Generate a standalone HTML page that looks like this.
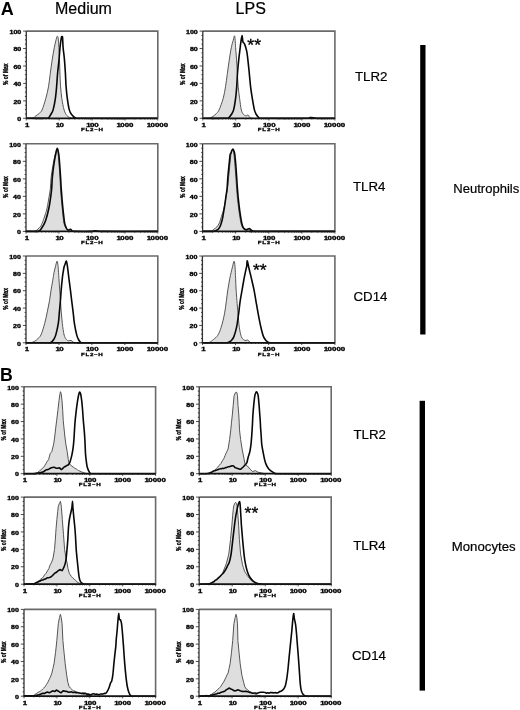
<!DOCTYPE html><html><head><meta charset="utf-8"><style>html,body{margin:0;padding:0;background:#fff;}svg{display:block;will-change:transform;}text{font-family:"Liberation Sans", sans-serif;fill:#000;}</style></head><body>
<svg width="520" height="710" viewBox="0 0 520 710">
<rect width="520" height="710" fill="#fff"/>
<path d="M27.00 118.30 C27.98 118.27 31.43 118.50 32.90 118.10 C34.37 117.70 34.73 116.70 35.80 115.90 C36.87 115.10 38.25 114.30 39.30 113.30 C40.35 112.30 41.02 112.38 42.10 109.90 C43.18 107.42 44.73 102.25 45.80 98.40 C46.87 94.55 47.75 90.98 48.50 86.80 C49.25 82.62 49.67 77.92 50.30 73.30 C50.93 68.68 51.63 63.38 52.30 59.10 C52.97 54.82 53.58 51.15 54.30 47.60 C55.02 44.05 56.08 39.68 56.60 37.80 C57.12 35.92 57.13 36.22 57.40 36.30 C57.67 36.38 57.95 36.42 58.20 38.30 C58.45 40.18 58.68 43.93 58.90 47.60 C59.12 51.27 59.32 55.68 59.50 60.30 C59.68 64.92 59.82 70.88 60.00 75.30 C60.18 79.72 60.30 82.95 60.60 86.80 C60.90 90.65 61.22 94.55 61.80 98.40 C62.38 102.25 63.23 107.02 64.10 109.90 C64.97 112.78 65.85 114.37 67.00 115.70 C68.15 117.03 69.50 117.47 71.00 117.90 C72.50 118.33 75.17 118.23 76.00 118.30 Z" fill="#dedede" stroke="none"/>
<path d="M27.00 118.30 C27.98 118.27 31.43 118.50 32.90 118.10 C34.37 117.70 34.73 116.70 35.80 115.90 C36.87 115.10 38.25 114.30 39.30 113.30 C40.35 112.30 41.02 112.38 42.10 109.90 C43.18 107.42 44.73 102.25 45.80 98.40 C46.87 94.55 47.75 90.98 48.50 86.80 C49.25 82.62 49.67 77.92 50.30 73.30 C50.93 68.68 51.63 63.38 52.30 59.10 C52.97 54.82 53.58 51.15 54.30 47.60 C55.02 44.05 56.08 39.68 56.60 37.80 C57.12 35.92 57.13 36.22 57.40 36.30 C57.67 36.38 57.95 36.42 58.20 38.30 C58.45 40.18 58.68 43.93 58.90 47.60 C59.12 51.27 59.32 55.68 59.50 60.30 C59.68 64.92 59.82 70.88 60.00 75.30 C60.18 79.72 60.30 82.95 60.60 86.80 C60.90 90.65 61.22 94.55 61.80 98.40 C62.38 102.25 63.23 107.02 64.10 109.90 C64.97 112.78 65.85 114.37 67.00 115.70 C68.15 117.03 69.50 117.47 71.00 117.90 C72.50 118.33 75.17 118.23 76.00 118.30" fill="none" stroke="#555555" stroke-width="1.0" stroke-linejoin="round"/>
<path d="M27.00 118.30 C30.17 118.30 42.42 118.37 46.00 118.30 C49.58 118.23 47.70 118.53 48.50 117.90 C49.30 117.27 50.03 115.83 50.80 114.50 C51.57 113.17 52.33 112.58 53.10 109.90 C53.87 107.22 54.82 102.25 55.40 98.40 C55.98 94.55 56.23 90.98 56.60 86.80 C56.97 82.62 57.18 77.92 57.60 73.30 C58.02 68.68 58.70 63.38 59.10 59.10 C59.50 54.82 59.63 51.15 60.00 47.60 C60.37 44.05 60.97 39.63 61.30 37.80 C61.63 35.97 61.78 36.60 62.00 36.60 C62.22 36.60 62.42 35.97 62.60 37.80 C62.78 39.63 62.80 44.05 63.10 47.60 C63.40 51.15 64.02 54.82 64.40 59.10 C64.78 63.38 65.12 68.68 65.40 73.30 C65.68 77.92 65.78 82.62 66.10 86.80 C66.42 90.98 66.77 94.55 67.30 98.40 C67.83 102.25 68.58 107.22 69.30 109.90 C70.02 112.58 70.55 113.17 71.60 114.50 C72.65 115.83 74.20 117.27 75.60 117.90 C77.00 118.53 66.43 118.23 80.00 118.30 C93.57 118.37 144.17 118.30 157.00 118.30" fill="none" stroke="#080808" stroke-width="1.6" stroke-linejoin="round" stroke-linecap="round"/>
<path d="M26.3 31.1 H157.8 V118.3" fill="none" stroke="#6a6a6a" stroke-width="1.6"/>
<path d="M26.3 31.1 V118.3" fill="none" stroke="#333" stroke-width="1.3"/>
<path d="M26.3 118.3 H157.8" fill="none" stroke="#111" stroke-width="1.8"/>
<path d="M23.1 118.3H26.3M24.9 113.94H26.3M24.9 109.58H26.3M24.9 105.22H26.3M23.1 100.86H26.3M24.9 96.5H26.3M24.9 92.14H26.3M24.9 87.78H26.3M23.1 83.42H26.3M24.9 79.06H26.3M24.9 74.7H26.3M24.9 70.34H26.3M23.1 65.98H26.3M24.9 61.62H26.3M24.9 57.26H26.3M24.9 52.9H26.3M23.1 48.54H26.3M24.9 44.18H26.3M24.9 39.82H26.3M24.9 35.46H26.3M23.1 31.1H26.3M26.3 118.3V120.5M36.2 118.3V119.5M41.99 118.3V119.5M46.09 118.3V119.5M49.28 118.3V119.5M51.88 118.3V119.5M54.08 118.3V119.5M55.99 118.3V119.5M57.67 118.3V119.5M59.17 118.3V120.5M69.07 118.3V119.5M74.86 118.3V119.5M78.97 118.3V119.5M82.15 118.3V119.5M84.76 118.3V119.5M86.96 118.3V119.5M88.86 118.3V119.5M90.55 118.3V119.5M92.05 118.3V120.5M101.95 118.3V119.5M107.74 118.3V119.5M111.84 118.3V119.5M115.03 118.3V119.5M117.63 118.3V119.5M119.83 118.3V119.5M121.74 118.3V119.5M123.42 118.3V119.5M124.92 118.3V120.5M134.82 118.3V119.5M140.61 118.3V119.5M144.72 118.3V119.5M147.9 118.3V119.5M150.51 118.3V119.5M152.71 118.3V119.5M154.61 118.3V119.5M156.3 118.3V119.5M157.8 118.3V120.5" stroke="#222" stroke-width="0.8" fill="none"/>
<text transform="translate(21.3 121) scale(0.71 0.47)" font-size="10.0" font-weight="bold" text-anchor="end" stroke="#000" stroke-width="0.6">0</text>
<text transform="translate(21.3 103.56) scale(0.71 0.47)" font-size="10.0" font-weight="bold" text-anchor="end" stroke="#000" stroke-width="0.6">20</text>
<text transform="translate(21.3 86.12) scale(0.71 0.47)" font-size="10.0" font-weight="bold" text-anchor="end" stroke="#000" stroke-width="0.6">40</text>
<text transform="translate(21.3 68.68) scale(0.71 0.47)" font-size="10.0" font-weight="bold" text-anchor="end" stroke="#000" stroke-width="0.6">60</text>
<text transform="translate(21.3 51.24) scale(0.71 0.47)" font-size="10.0" font-weight="bold" text-anchor="end" stroke="#000" stroke-width="0.6">80</text>
<text transform="translate(21.3 33.8) scale(0.71 0.47)" font-size="10.0" font-weight="bold" text-anchor="end" stroke="#000" stroke-width="0.6">100</text>
<text transform="translate(27.3 126.8) scale(0.79 0.46)" font-size="10.0" font-weight="bold" text-anchor="middle" stroke="#000" stroke-width="0.6">1</text>
<text transform="translate(59.88 126.8) scale(0.79 0.46)" font-size="10.0" font-weight="bold" text-anchor="middle" stroke="#000" stroke-width="0.6" dx="0 -0.8">10</text>
<text transform="translate(92.45 126.8) scale(0.79 0.46)" font-size="10.0" font-weight="bold" text-anchor="middle" stroke="#000" stroke-width="0.6" dx="0 -0.8">100</text>
<text transform="translate(125.02 126.8) scale(0.79 0.46)" font-size="10.0" font-weight="bold" text-anchor="middle" stroke="#000" stroke-width="0.6" dx="0 -0.8">1000</text>
<text transform="translate(157.4 126.8) scale(0.79 0.46)" font-size="10.0" font-weight="bold" text-anchor="middle" stroke="#000" stroke-width="0.6" dx="0 -0.8">10000</text>
<text transform="translate(92.35 131) scale(0.62 0.44)" font-size="10" font-weight="bold" text-anchor="middle" letter-spacing="1.2" stroke="#000" stroke-width="0.6">FL2–H</text>
<text transform="translate(8.3 74.2) rotate(-90) scale(0.5 0.68)" font-size="10" font-weight="bold" text-anchor="middle" stroke="#000" stroke-width="0.5">% of Max</text>
<path d="M209.60 118.30 C210.18 117.97 211.95 117.12 213.10 116.30 C214.25 115.48 215.50 114.47 216.50 113.40 C217.50 112.33 217.98 112.40 219.10 109.90 C220.22 107.40 222.13 102.25 223.20 98.40 C224.27 94.55 224.80 90.98 225.50 86.80 C226.20 82.62 226.75 77.92 227.40 73.30 C228.05 68.68 228.75 63.38 229.40 59.10 C230.05 54.82 230.67 50.73 231.30 47.60 C231.93 44.47 232.67 42.27 233.20 40.30 C233.73 38.33 234.17 35.80 234.50 35.80 C234.83 35.80 235.02 38.33 235.20 40.30 C235.38 42.27 235.38 44.47 235.60 47.60 C235.82 50.73 236.22 54.98 236.50 59.10 C236.78 63.22 237.02 67.68 237.30 72.30 C237.58 76.92 237.82 82.45 238.20 86.80 C238.58 91.15 239.08 94.55 239.60 98.40 C240.12 102.25 240.63 107.22 241.30 109.90 C241.97 112.58 242.82 113.52 243.60 114.50 C244.38 115.48 245.22 115.70 246.00 115.80 C246.78 115.90 247.63 114.77 248.30 115.10 C248.97 115.43 249.22 117.27 250.00 117.80 C250.78 118.33 252.50 118.22 253.00 118.30 Z" fill="#dedede" stroke="none"/>
<path d="M209.60 118.30 C210.18 117.97 211.95 117.12 213.10 116.30 C214.25 115.48 215.50 114.47 216.50 113.40 C217.50 112.33 217.98 112.40 219.10 109.90 C220.22 107.40 222.13 102.25 223.20 98.40 C224.27 94.55 224.80 90.98 225.50 86.80 C226.20 82.62 226.75 77.92 227.40 73.30 C228.05 68.68 228.75 63.38 229.40 59.10 C230.05 54.82 230.67 50.73 231.30 47.60 C231.93 44.47 232.67 42.27 233.20 40.30 C233.73 38.33 234.17 35.80 234.50 35.80 C234.83 35.80 235.02 38.33 235.20 40.30 C235.38 42.27 235.38 44.47 235.60 47.60 C235.82 50.73 236.22 54.98 236.50 59.10 C236.78 63.22 237.02 67.68 237.30 72.30 C237.58 76.92 237.82 82.45 238.20 86.80 C238.58 91.15 239.08 94.55 239.60 98.40 C240.12 102.25 240.63 107.22 241.30 109.90 C241.97 112.58 242.82 113.52 243.60 114.50 C244.38 115.48 245.22 115.70 246.00 115.80 C246.78 115.90 247.63 114.77 248.30 115.10 C248.97 115.43 249.22 117.27 250.00 117.80 C250.78 118.33 252.50 118.22 253.00 118.30" fill="none" stroke="#555555" stroke-width="1.0" stroke-linejoin="round"/>
<path d="M203.00 118.30 C206.83 118.30 221.73 118.37 226.00 118.30 C230.27 118.23 227.72 118.53 228.60 117.90 C229.48 117.27 230.47 115.83 231.30 114.50 C232.13 113.17 232.88 112.58 233.60 109.90 C234.32 107.22 235.08 102.25 235.60 98.40 C236.12 94.55 236.38 90.98 236.70 86.80 C237.02 82.62 237.15 77.92 237.50 73.30 C237.85 68.68 238.35 63.38 238.80 59.10 C239.25 54.82 239.85 50.48 240.20 47.60 C240.55 44.72 240.58 43.82 240.90 41.80 C241.22 39.78 241.77 35.50 242.10 35.50 C242.43 35.50 242.48 40.37 242.90 41.80 C243.32 43.23 243.97 42.55 244.60 44.10 C245.23 45.65 246.17 48.60 246.70 51.10 C247.23 53.60 247.38 55.57 247.80 59.10 C248.22 62.63 248.73 67.68 249.20 72.30 C249.67 76.92 250.08 82.45 250.60 86.80 C251.12 91.15 251.67 94.55 252.30 98.40 C252.93 102.25 253.73 107.22 254.40 109.90 C255.07 112.58 255.50 113.17 256.30 114.50 C257.10 115.83 258.08 117.27 259.20 117.90 C260.32 118.53 255.03 118.23 263.00 118.30 C270.97 118.37 299.17 118.42 307.00 118.30 C314.83 118.18 308.92 117.70 310.00 117.60 C311.08 117.50 312.42 117.58 313.50 117.70 C314.58 117.82 312.97 118.20 316.50 118.30 C320.03 118.40 331.67 118.30 334.70 118.30" fill="none" stroke="#080808" stroke-width="1.6" stroke-linejoin="round" stroke-linecap="round"/>
<path d="M202.8 31.1 H334.9 V118.3" fill="none" stroke="#6a6a6a" stroke-width="1.6"/>
<path d="M202.8 31.1 V118.3" fill="none" stroke="#333" stroke-width="1.3"/>
<path d="M202.8 118.3 H334.9" fill="none" stroke="#111" stroke-width="1.8"/>
<path d="M199.6 118.3H202.8M201.4 113.94H202.8M201.4 109.58H202.8M201.4 105.22H202.8M199.6 100.86H202.8M201.4 96.5H202.8M201.4 92.14H202.8M201.4 87.78H202.8M199.6 83.42H202.8M201.4 79.06H202.8M201.4 74.7H202.8M201.4 70.34H202.8M199.6 65.98H202.8M201.4 61.62H202.8M201.4 57.26H202.8M201.4 52.9H202.8M199.6 48.54H202.8M201.4 44.18H202.8M201.4 39.82H202.8M201.4 35.46H202.8M199.6 31.1H202.8M202.8 118.3V120.5M212.74 118.3V119.5M218.56 118.3V119.5M222.68 118.3V119.5M225.88 118.3V119.5M228.5 118.3V119.5M230.71 118.3V119.5M232.62 118.3V119.5M234.31 118.3V119.5M235.82 118.3V120.5M245.77 118.3V119.5M251.58 118.3V119.5M255.71 118.3V119.5M258.91 118.3V119.5M261.52 118.3V119.5M263.73 118.3V119.5M265.65 118.3V119.5M267.34 118.3V119.5M268.85 118.3V120.5M278.79 118.3V119.5M284.61 118.3V119.5M288.73 118.3V119.5M291.93 118.3V119.5M294.55 118.3V119.5M296.76 118.3V119.5M298.67 118.3V119.5M300.36 118.3V119.5M301.88 118.3V120.5M311.82 118.3V119.5M317.63 118.3V119.5M321.76 118.3V119.5M324.96 118.3V119.5M327.57 118.3V119.5M329.78 118.3V119.5M331.7 118.3V119.5M333.39 118.3V119.5M334.9 118.3V120.5" stroke="#222" stroke-width="0.8" fill="none"/>
<text transform="translate(197.8 121) scale(0.71 0.47)" font-size="10.0" font-weight="bold" text-anchor="end" stroke="#000" stroke-width="0.6">0</text>
<text transform="translate(197.8 103.56) scale(0.71 0.47)" font-size="10.0" font-weight="bold" text-anchor="end" stroke="#000" stroke-width="0.6">20</text>
<text transform="translate(197.8 86.12) scale(0.71 0.47)" font-size="10.0" font-weight="bold" text-anchor="end" stroke="#000" stroke-width="0.6">40</text>
<text transform="translate(197.8 68.68) scale(0.71 0.47)" font-size="10.0" font-weight="bold" text-anchor="end" stroke="#000" stroke-width="0.6">60</text>
<text transform="translate(197.8 51.24) scale(0.71 0.47)" font-size="10.0" font-weight="bold" text-anchor="end" stroke="#000" stroke-width="0.6">80</text>
<text transform="translate(197.8 33.8) scale(0.71 0.47)" font-size="10.0" font-weight="bold" text-anchor="end" stroke="#000" stroke-width="0.6">100</text>
<text transform="translate(203.8 126.8) scale(0.79 0.46)" font-size="10.0" font-weight="bold" text-anchor="middle" stroke="#000" stroke-width="0.6">1</text>
<text transform="translate(236.52 126.8) scale(0.79 0.46)" font-size="10.0" font-weight="bold" text-anchor="middle" stroke="#000" stroke-width="0.6" dx="0 -0.8">10</text>
<text transform="translate(269.25 126.8) scale(0.79 0.46)" font-size="10.0" font-weight="bold" text-anchor="middle" stroke="#000" stroke-width="0.6" dx="0 -0.8">100</text>
<text transform="translate(301.98 126.8) scale(0.79 0.46)" font-size="10.0" font-weight="bold" text-anchor="middle" stroke="#000" stroke-width="0.6" dx="0 -0.8">1000</text>
<text transform="translate(334.5 126.8) scale(0.79 0.46)" font-size="10.0" font-weight="bold" text-anchor="middle" stroke="#000" stroke-width="0.6" dx="0 -0.8">10000</text>
<text transform="translate(269.15 131) scale(0.62 0.44)" font-size="10" font-weight="bold" text-anchor="middle" letter-spacing="1.2" stroke="#000" stroke-width="0.6">FL2–H</text>
<text transform="translate(184.8 74.2) rotate(-90) scale(0.5 0.68)" font-size="10" font-weight="bold" text-anchor="middle" stroke="#000" stroke-width="0.5">% of Max</text>
<path d="M30.00 231.30 C30.75 231.27 33.42 231.25 34.50 231.10 C35.58 230.95 35.93 230.72 36.50 230.40 C37.07 230.08 37.40 229.70 37.90 229.20 C38.40 228.70 39.00 227.93 39.50 227.40 C40.00 226.87 40.23 227.27 40.90 226.00 C41.57 224.73 42.73 221.85 43.50 219.80 C44.27 217.75 44.90 215.67 45.50 213.70 C46.10 211.73 46.48 210.93 47.10 208.00 C47.72 205.07 48.65 199.40 49.20 196.10 C49.75 192.80 50.08 191.25 50.40 188.20 C50.72 185.15 50.70 181.45 51.10 177.80 C51.50 174.15 52.13 170.15 52.80 166.30 C53.47 162.45 54.35 157.63 55.10 154.70 C55.85 151.77 56.78 148.70 57.30 148.70 C57.82 148.70 57.88 151.77 58.20 154.70 C58.52 157.63 58.90 162.45 59.20 166.30 C59.50 170.15 59.78 174.15 60.00 177.80 C60.22 181.45 60.27 184.55 60.50 188.20 C60.73 191.85 61.07 195.85 61.40 199.70 C61.73 203.55 62.08 207.45 62.50 211.30 C62.92 215.15 63.35 220.07 63.90 222.80 C64.45 225.53 65.12 226.38 65.80 227.70 C66.48 229.02 67.13 230.10 68.00 230.70 C68.87 231.30 70.50 231.20 71.00 231.30 Z" fill="#dedede" stroke="none"/>
<path d="M30.00 231.30 C30.75 231.27 33.42 231.25 34.50 231.10 C35.58 230.95 35.93 230.72 36.50 230.40 C37.07 230.08 37.40 229.70 37.90 229.20 C38.40 228.70 39.00 227.93 39.50 227.40 C40.00 226.87 40.23 227.27 40.90 226.00 C41.57 224.73 42.73 221.85 43.50 219.80 C44.27 217.75 44.90 215.67 45.50 213.70 C46.10 211.73 46.48 210.93 47.10 208.00 C47.72 205.07 48.65 199.40 49.20 196.10 C49.75 192.80 50.08 191.25 50.40 188.20 C50.72 185.15 50.70 181.45 51.10 177.80 C51.50 174.15 52.13 170.15 52.80 166.30 C53.47 162.45 54.35 157.63 55.10 154.70 C55.85 151.77 56.78 148.70 57.30 148.70 C57.82 148.70 57.88 151.77 58.20 154.70 C58.52 157.63 58.90 162.45 59.20 166.30 C59.50 170.15 59.78 174.15 60.00 177.80 C60.22 181.45 60.27 184.55 60.50 188.20 C60.73 191.85 61.07 195.85 61.40 199.70 C61.73 203.55 62.08 207.45 62.50 211.30 C62.92 215.15 63.35 220.07 63.90 222.80 C64.45 225.53 65.12 226.38 65.80 227.70 C66.48 229.02 67.13 230.10 68.00 230.70 C68.87 231.30 70.50 231.20 71.00 231.30" fill="none" stroke="#555555" stroke-width="1.0" stroke-linejoin="round"/>
<path d="M26.00 231.40 C27.83 231.40 34.78 231.50 37.00 231.40 C39.22 231.30 38.65 231.17 39.30 230.80 C39.95 230.43 40.25 230.05 40.90 229.20 C41.55 228.35 42.37 227.27 43.20 225.70 C44.03 224.13 44.95 222.75 45.90 219.80 C46.85 216.85 48.08 211.95 48.90 208.00 C49.72 204.05 50.33 199.40 50.80 196.10 C51.27 192.80 51.45 191.25 51.70 188.20 C51.95 185.15 51.98 181.45 52.30 177.80 C52.62 174.15 53.05 170.15 53.60 166.30 C54.15 162.45 54.98 157.68 55.60 154.70 C56.22 151.72 56.77 148.40 57.30 148.40 C57.83 148.40 58.38 151.72 58.80 154.70 C59.22 157.68 59.50 162.45 59.80 166.30 C60.10 170.15 60.37 174.15 60.60 177.80 C60.83 181.45 60.95 184.55 61.20 188.20 C61.45 191.85 61.77 195.85 62.10 199.70 C62.43 203.55 62.78 207.45 63.20 211.30 C63.62 215.15 64.08 220.02 64.60 222.80 C65.12 225.58 65.73 226.80 66.30 228.00 C66.87 229.20 67.32 229.77 68.00 230.00 C68.68 230.23 69.65 229.23 70.40 229.40 C71.15 229.57 71.73 230.67 72.50 231.00 C73.27 231.33 71.92 231.33 75.00 231.40 C78.08 231.47 87.83 231.50 91.00 231.40 C94.17 231.30 92.83 230.87 94.00 230.80 C95.17 230.73 96.67 230.90 98.00 231.00 C99.33 231.10 92.10 231.33 102.00 231.40 C111.90 231.47 148.17 231.40 157.40 231.40" fill="none" stroke="#080808" stroke-width="1.6" stroke-linejoin="round" stroke-linecap="round"/>
<path d="M26 143.8 H157.8 V231.4" fill="none" stroke="#6a6a6a" stroke-width="1.6"/>
<path d="M26 143.8 V231.4" fill="none" stroke="#333" stroke-width="1.3"/>
<path d="M26 231.4 H157.8" fill="none" stroke="#111" stroke-width="1.8"/>
<path d="M22.8 231.4H26M24.6 227.02H26M24.6 222.64H26M24.6 218.26H26M22.8 213.88H26M24.6 209.5H26M24.6 205.12H26M24.6 200.74H26M22.8 196.36H26M24.6 191.98H26M24.6 187.6H26M24.6 183.22H26M22.8 178.84H26M24.6 174.46H26M24.6 170.08H26M24.6 165.7H26M22.8 161.32H26M24.6 156.94H26M24.6 152.56H26M24.6 148.18H26M22.8 143.8H26M26 231.4V233.6M35.92 231.4V232.6M41.72 231.4V232.6M45.84 231.4V232.6M49.03 231.4V232.6M51.64 231.4V232.6M53.85 231.4V232.6M55.76 231.4V232.6M57.44 231.4V232.6M58.95 231.4V233.6M68.87 231.4V232.6M74.67 231.4V232.6M78.79 231.4V232.6M81.98 231.4V232.6M84.59 231.4V232.6M86.8 231.4V232.6M88.71 231.4V232.6M90.39 231.4V232.6M91.9 231.4V233.6M101.82 231.4V232.6M107.62 231.4V232.6M111.74 231.4V232.6M114.93 231.4V232.6M117.54 231.4V232.6M119.75 231.4V232.6M121.66 231.4V232.6M123.34 231.4V232.6M124.85 231.4V233.6M134.77 231.4V232.6M140.57 231.4V232.6M144.69 231.4V232.6M147.88 231.4V232.6M150.49 231.4V232.6M152.7 231.4V232.6M154.61 231.4V232.6M156.29 231.4V232.6M157.8 231.4V233.6" stroke="#222" stroke-width="0.8" fill="none"/>
<text transform="translate(21 234.1) scale(0.71 0.47)" font-size="10.0" font-weight="bold" text-anchor="end" stroke="#000" stroke-width="0.6">0</text>
<text transform="translate(21 216.58) scale(0.71 0.47)" font-size="10.0" font-weight="bold" text-anchor="end" stroke="#000" stroke-width="0.6">20</text>
<text transform="translate(21 199.06) scale(0.71 0.47)" font-size="10.0" font-weight="bold" text-anchor="end" stroke="#000" stroke-width="0.6">40</text>
<text transform="translate(21 181.54) scale(0.71 0.47)" font-size="10.0" font-weight="bold" text-anchor="end" stroke="#000" stroke-width="0.6">60</text>
<text transform="translate(21 164.02) scale(0.71 0.47)" font-size="10.0" font-weight="bold" text-anchor="end" stroke="#000" stroke-width="0.6">80</text>
<text transform="translate(21 146.5) scale(0.71 0.47)" font-size="10.0" font-weight="bold" text-anchor="end" stroke="#000" stroke-width="0.6">100</text>
<text transform="translate(27 239.9) scale(0.79 0.46)" font-size="10.0" font-weight="bold" text-anchor="middle" stroke="#000" stroke-width="0.6">1</text>
<text transform="translate(59.65 239.9) scale(0.79 0.46)" font-size="10.0" font-weight="bold" text-anchor="middle" stroke="#000" stroke-width="0.6" dx="0 -0.8">10</text>
<text transform="translate(92.3 239.9) scale(0.79 0.46)" font-size="10.0" font-weight="bold" text-anchor="middle" stroke="#000" stroke-width="0.6" dx="0 -0.8">100</text>
<text transform="translate(124.95 239.9) scale(0.79 0.46)" font-size="10.0" font-weight="bold" text-anchor="middle" stroke="#000" stroke-width="0.6" dx="0 -0.8">1000</text>
<text transform="translate(157.4 239.9) scale(0.79 0.46)" font-size="10.0" font-weight="bold" text-anchor="middle" stroke="#000" stroke-width="0.6" dx="0 -0.8">10000</text>
<text transform="translate(92.2 244.1) scale(0.62 0.44)" font-size="10" font-weight="bold" text-anchor="middle" letter-spacing="1.2" stroke="#000" stroke-width="0.6">FL2–H</text>
<text transform="translate(8 187.1) rotate(-90) scale(0.5 0.68)" font-size="10" font-weight="bold" text-anchor="middle" stroke="#000" stroke-width="0.5">% of Max</text>
<path d="M204.00 231.30 C205.17 231.27 209.35 231.45 211.00 231.10 C212.65 230.75 212.92 229.90 213.90 229.20 C214.88 228.50 215.97 227.98 216.90 226.90 C217.83 225.82 218.77 224.38 219.50 222.70 C220.23 221.02 220.63 218.88 221.30 216.80 C221.97 214.72 222.92 212.30 223.50 210.20 C224.08 208.10 224.40 206.37 224.80 204.20 C225.20 202.03 225.45 199.87 225.90 197.20 C226.35 194.53 227.05 191.43 227.50 188.20 C227.95 184.97 228.23 181.45 228.60 177.80 C228.97 174.15 229.32 170.15 229.70 166.30 C230.08 162.45 230.52 157.38 230.90 154.70 C231.28 152.02 231.68 151.08 232.00 150.20 C232.32 149.32 232.47 148.65 232.80 149.40 C233.13 150.15 233.63 151.88 234.00 154.70 C234.37 157.52 234.68 162.45 235.00 166.30 C235.32 170.15 235.63 174.15 235.90 177.80 C236.17 181.45 236.32 184.55 236.60 188.20 C236.88 191.85 237.20 195.85 237.60 199.70 C238.00 203.55 238.45 207.45 239.00 211.30 C239.55 215.15 240.32 220.15 240.90 222.80 C241.48 225.45 241.90 226.05 242.50 227.20 C243.10 228.35 243.75 229.08 244.50 229.70 C245.25 230.32 246.08 230.63 247.00 230.90 C247.92 231.17 249.50 231.23 250.00 231.30 Z" fill="#dedede" stroke="none"/>
<path d="M204.00 231.30 C205.17 231.27 209.35 231.45 211.00 231.10 C212.65 230.75 212.92 229.90 213.90 229.20 C214.88 228.50 215.97 227.98 216.90 226.90 C217.83 225.82 218.77 224.38 219.50 222.70 C220.23 221.02 220.63 218.88 221.30 216.80 C221.97 214.72 222.92 212.30 223.50 210.20 C224.08 208.10 224.40 206.37 224.80 204.20 C225.20 202.03 225.45 199.87 225.90 197.20 C226.35 194.53 227.05 191.43 227.50 188.20 C227.95 184.97 228.23 181.45 228.60 177.80 C228.97 174.15 229.32 170.15 229.70 166.30 C230.08 162.45 230.52 157.38 230.90 154.70 C231.28 152.02 231.68 151.08 232.00 150.20 C232.32 149.32 232.47 148.65 232.80 149.40 C233.13 150.15 233.63 151.88 234.00 154.70 C234.37 157.52 234.68 162.45 235.00 166.30 C235.32 170.15 235.63 174.15 235.90 177.80 C236.17 181.45 236.32 184.55 236.60 188.20 C236.88 191.85 237.20 195.85 237.60 199.70 C238.00 203.55 238.45 207.45 239.00 211.30 C239.55 215.15 240.32 220.15 240.90 222.80 C241.48 225.45 241.90 226.05 242.50 227.20 C243.10 228.35 243.75 229.08 244.50 229.70 C245.25 230.32 246.08 230.63 247.00 230.90 C247.92 231.17 249.50 231.23 250.00 231.30" fill="none" stroke="#555555" stroke-width="1.0" stroke-linejoin="round"/>
<path d="M202.60 231.40 C203.83 231.40 208.12 231.43 210.00 231.40 C211.88 231.37 212.85 231.37 213.90 231.20 C214.95 231.03 215.50 230.82 216.30 230.40 C217.10 229.98 218.02 229.48 218.70 228.70 C219.38 227.92 219.82 227.18 220.40 225.70 C220.98 224.22 221.72 221.77 222.20 219.80 C222.68 217.83 222.95 215.87 223.30 213.90 C223.65 211.93 223.98 209.98 224.30 208.00 C224.62 206.02 224.92 203.98 225.20 202.00 C225.48 200.02 225.72 198.07 226.00 196.10 C226.28 194.13 226.67 192.18 226.90 190.20 C227.13 188.22 227.25 186.27 227.40 184.20 C227.55 182.13 227.55 180.78 227.80 177.80 C228.05 174.82 228.62 169.18 228.90 166.30 C229.18 163.42 229.30 162.43 229.50 160.50 C229.70 158.57 229.85 155.95 230.10 154.70 C230.35 153.45 230.72 153.67 231.00 153.00 C231.28 152.33 231.47 151.37 231.80 150.70 C232.13 150.03 232.63 148.92 233.00 149.00 C233.37 149.08 233.70 150.25 234.00 151.20 C234.30 152.15 234.48 152.18 234.80 154.70 C235.12 157.22 235.58 162.45 235.90 166.30 C236.22 170.15 236.45 174.15 236.70 177.80 C236.95 181.45 237.12 184.55 237.40 188.20 C237.68 191.85 238.00 195.85 238.40 199.70 C238.80 203.55 239.25 207.45 239.80 211.30 C240.35 215.15 241.15 220.12 241.70 222.80 C242.25 225.48 242.58 226.33 243.10 227.40 C243.62 228.47 244.15 228.85 244.80 229.20 C245.45 229.55 246.23 229.60 247.00 229.50 C247.77 229.40 248.73 228.52 249.40 228.60 C250.07 228.68 250.33 229.57 251.00 230.00 C251.67 230.43 252.57 230.97 253.40 231.20 C254.23 231.43 242.45 231.37 256.00 231.40 C269.55 231.43 321.58 231.40 334.70 231.40" fill="none" stroke="#080808" stroke-width="1.6" stroke-linejoin="round" stroke-linecap="round"/>
<path d="M202.6 143.8 H334.9 V231.4" fill="none" stroke="#6a6a6a" stroke-width="1.6"/>
<path d="M202.6 143.8 V231.4" fill="none" stroke="#333" stroke-width="1.3"/>
<path d="M202.6 231.4 H334.9" fill="none" stroke="#111" stroke-width="1.8"/>
<path d="M199.4 231.4H202.6M201.2 227.02H202.6M201.2 222.64H202.6M201.2 218.26H202.6M199.4 213.88H202.6M201.2 209.5H202.6M201.2 205.12H202.6M201.2 200.74H202.6M199.4 196.36H202.6M201.2 191.98H202.6M201.2 187.6H202.6M201.2 183.22H202.6M199.4 178.84H202.6M201.2 174.46H202.6M201.2 170.08H202.6M201.2 165.7H202.6M199.4 161.32H202.6M201.2 156.94H202.6M201.2 152.56H202.6M201.2 148.18H202.6M199.4 143.8H202.6M202.6 231.4V233.6M212.56 231.4V232.6M218.38 231.4V232.6M222.51 231.4V232.6M225.72 231.4V232.6M228.34 231.4V232.6M230.55 231.4V232.6M232.47 231.4V232.6M234.16 231.4V232.6M235.67 231.4V233.6M245.63 231.4V232.6M251.46 231.4V232.6M255.59 231.4V232.6M258.79 231.4V232.6M261.41 231.4V232.6M263.63 231.4V232.6M265.54 231.4V232.6M267.24 231.4V232.6M268.75 231.4V233.6M278.71 231.4V232.6M284.53 231.4V232.6M288.66 231.4V232.6M291.87 231.4V232.6M294.49 231.4V232.6M296.7 231.4V232.6M298.62 231.4V232.6M300.31 231.4V232.6M301.82 231.4V233.6M311.78 231.4V232.6M317.61 231.4V232.6M321.74 231.4V232.6M324.94 231.4V232.6M327.56 231.4V232.6M329.78 231.4V232.6M331.69 231.4V232.6M333.39 231.4V232.6M334.9 231.4V233.6" stroke="#222" stroke-width="0.8" fill="none"/>
<text transform="translate(197.6 234.1) scale(0.71 0.47)" font-size="10.0" font-weight="bold" text-anchor="end" stroke="#000" stroke-width="0.6">0</text>
<text transform="translate(197.6 216.58) scale(0.71 0.47)" font-size="10.0" font-weight="bold" text-anchor="end" stroke="#000" stroke-width="0.6">20</text>
<text transform="translate(197.6 199.06) scale(0.71 0.47)" font-size="10.0" font-weight="bold" text-anchor="end" stroke="#000" stroke-width="0.6">40</text>
<text transform="translate(197.6 181.54) scale(0.71 0.47)" font-size="10.0" font-weight="bold" text-anchor="end" stroke="#000" stroke-width="0.6">60</text>
<text transform="translate(197.6 164.02) scale(0.71 0.47)" font-size="10.0" font-weight="bold" text-anchor="end" stroke="#000" stroke-width="0.6">80</text>
<text transform="translate(197.6 146.5) scale(0.71 0.47)" font-size="10.0" font-weight="bold" text-anchor="end" stroke="#000" stroke-width="0.6">100</text>
<text transform="translate(203.6 239.9) scale(0.79 0.46)" font-size="10.0" font-weight="bold" text-anchor="middle" stroke="#000" stroke-width="0.6">1</text>
<text transform="translate(236.37 239.9) scale(0.79 0.46)" font-size="10.0" font-weight="bold" text-anchor="middle" stroke="#000" stroke-width="0.6" dx="0 -0.8">10</text>
<text transform="translate(269.15 239.9) scale(0.79 0.46)" font-size="10.0" font-weight="bold" text-anchor="middle" stroke="#000" stroke-width="0.6" dx="0 -0.8">100</text>
<text transform="translate(301.93 239.9) scale(0.79 0.46)" font-size="10.0" font-weight="bold" text-anchor="middle" stroke="#000" stroke-width="0.6" dx="0 -0.8">1000</text>
<text transform="translate(334.5 239.9) scale(0.79 0.46)" font-size="10.0" font-weight="bold" text-anchor="middle" stroke="#000" stroke-width="0.6" dx="0 -0.8">10000</text>
<text transform="translate(269.05 244.1) scale(0.62 0.44)" font-size="10" font-weight="bold" text-anchor="middle" letter-spacing="1.2" stroke="#000" stroke-width="0.6">FL2–H</text>
<text transform="translate(184.6 187.1) rotate(-90) scale(0.5 0.68)" font-size="10" font-weight="bold" text-anchor="middle" stroke="#000" stroke-width="0.5">% of Max</text>
<path d="M27.00 342.70 C27.60 342.68 29.32 342.83 30.60 342.60 C31.88 342.37 33.45 342.00 34.70 341.30 C35.95 340.60 37.05 339.47 38.10 338.40 C39.15 337.33 39.90 337.40 41.00 334.90 C42.10 332.40 43.65 327.25 44.70 323.40 C45.75 319.55 46.50 315.57 47.30 311.80 C48.10 308.03 48.87 304.45 49.50 300.80 C50.13 297.15 50.50 293.63 51.10 289.90 C51.70 286.17 52.62 281.28 53.10 278.40 C53.58 275.52 53.62 274.53 54.00 272.60 C54.38 270.67 54.88 268.72 55.40 266.80 C55.92 264.88 56.65 261.10 57.10 261.10 C57.55 261.10 57.80 263.92 58.10 266.80 C58.40 269.68 58.63 274.55 58.90 278.40 C59.17 282.25 59.43 286.17 59.70 289.90 C59.97 293.63 60.25 297.15 60.50 300.80 C60.75 304.45 60.90 308.03 61.20 311.80 C61.50 315.57 61.82 319.55 62.30 323.40 C62.78 327.25 63.42 332.22 64.10 334.90 C64.78 337.58 65.67 338.52 66.40 339.50 C67.13 340.48 67.73 340.65 68.50 340.80 C69.27 340.95 70.28 340.23 71.00 340.40 C71.72 340.57 72.23 341.43 72.80 341.80 C73.37 342.17 73.70 342.43 74.40 342.60 C75.10 342.77 76.57 342.77 77.00 342.80 Z" fill="#dedede" stroke="none"/>
<path d="M27.00 342.70 C27.60 342.68 29.32 342.83 30.60 342.60 C31.88 342.37 33.45 342.00 34.70 341.30 C35.95 340.60 37.05 339.47 38.10 338.40 C39.15 337.33 39.90 337.40 41.00 334.90 C42.10 332.40 43.65 327.25 44.70 323.40 C45.75 319.55 46.50 315.57 47.30 311.80 C48.10 308.03 48.87 304.45 49.50 300.80 C50.13 297.15 50.50 293.63 51.10 289.90 C51.70 286.17 52.62 281.28 53.10 278.40 C53.58 275.52 53.62 274.53 54.00 272.60 C54.38 270.67 54.88 268.72 55.40 266.80 C55.92 264.88 56.65 261.10 57.10 261.10 C57.55 261.10 57.80 263.92 58.10 266.80 C58.40 269.68 58.63 274.55 58.90 278.40 C59.17 282.25 59.43 286.17 59.70 289.90 C59.97 293.63 60.25 297.15 60.50 300.80 C60.75 304.45 60.90 308.03 61.20 311.80 C61.50 315.57 61.82 319.55 62.30 323.40 C62.78 327.25 63.42 332.22 64.10 334.90 C64.78 337.58 65.67 338.52 66.40 339.50 C67.13 340.48 67.73 340.65 68.50 340.80 C69.27 340.95 70.28 340.23 71.00 340.40 C71.72 340.57 72.23 341.43 72.80 341.80 C73.37 342.17 73.70 342.43 74.40 342.60 C75.10 342.77 76.57 342.77 77.00 342.80" fill="none" stroke="#555555" stroke-width="1.0" stroke-linejoin="round"/>
<path d="M26.00 342.80 C29.67 342.80 43.87 342.85 48.00 342.80 C52.13 342.75 49.85 343.05 50.80 342.50 C51.75 341.95 52.87 340.77 53.70 339.50 C54.53 338.23 55.03 337.58 55.80 334.90 C56.57 332.22 57.70 327.25 58.30 323.40 C58.90 319.55 59.05 315.57 59.40 311.80 C59.75 308.03 60.10 304.45 60.40 300.80 C60.70 297.15 60.88 293.63 61.20 289.90 C61.52 286.17 61.98 281.28 62.30 278.40 C62.62 275.52 62.80 274.53 63.10 272.60 C63.40 270.67 63.78 268.15 64.10 266.80 C64.42 265.45 64.62 265.45 65.00 264.50 C65.38 263.55 65.98 260.72 66.40 261.10 C66.82 261.48 67.08 263.92 67.50 266.80 C67.92 269.68 68.42 274.55 68.90 278.40 C69.38 282.25 69.93 286.17 70.40 289.90 C70.87 293.63 71.25 297.15 71.70 300.80 C72.15 304.45 72.65 308.03 73.10 311.80 C73.55 315.57 73.80 319.55 74.40 323.40 C75.00 327.25 76.02 332.22 76.70 334.90 C77.38 337.58 77.82 338.23 78.50 339.50 C79.18 340.77 79.88 341.95 80.80 342.50 C81.72 343.05 71.23 342.75 84.00 342.80 C96.77 342.85 145.17 342.80 157.40 342.80" fill="none" stroke="#080808" stroke-width="1.6" stroke-linejoin="round" stroke-linecap="round"/>
<path d="M26 256 H157.8 V342.8" fill="none" stroke="#6a6a6a" stroke-width="1.6"/>
<path d="M26 256 V342.8" fill="none" stroke="#333" stroke-width="1.3"/>
<path d="M26 342.8 H157.8" fill="none" stroke="#111" stroke-width="1.8"/>
<path d="M22.8 342.8H26M24.6 338.46H26M24.6 334.12H26M24.6 329.78H26M22.8 325.44H26M24.6 321.1H26M24.6 316.76H26M24.6 312.42H26M22.8 308.08H26M24.6 303.74H26M24.6 299.4H26M24.6 295.06H26M22.8 290.72H26M24.6 286.38H26M24.6 282.04H26M24.6 277.7H26M22.8 273.36H26M24.6 269.02H26M24.6 264.68H26M24.6 260.34H26M22.8 256H26M26 342.8V345M35.92 342.8V344M41.72 342.8V344M45.84 342.8V344M49.03 342.8V344M51.64 342.8V344M53.85 342.8V344M55.76 342.8V344M57.44 342.8V344M58.95 342.8V345M68.87 342.8V344M74.67 342.8V344M78.79 342.8V344M81.98 342.8V344M84.59 342.8V344M86.8 342.8V344M88.71 342.8V344M90.39 342.8V344M91.9 342.8V345M101.82 342.8V344M107.62 342.8V344M111.74 342.8V344M114.93 342.8V344M117.54 342.8V344M119.75 342.8V344M121.66 342.8V344M123.34 342.8V344M124.85 342.8V345M134.77 342.8V344M140.57 342.8V344M144.69 342.8V344M147.88 342.8V344M150.49 342.8V344M152.7 342.8V344M154.61 342.8V344M156.29 342.8V344M157.8 342.8V345" stroke="#222" stroke-width="0.8" fill="none"/>
<text transform="translate(21 345.5) scale(0.71 0.47)" font-size="10.0" font-weight="bold" text-anchor="end" stroke="#000" stroke-width="0.6">0</text>
<text transform="translate(21 328.14) scale(0.71 0.47)" font-size="10.0" font-weight="bold" text-anchor="end" stroke="#000" stroke-width="0.6">20</text>
<text transform="translate(21 310.78) scale(0.71 0.47)" font-size="10.0" font-weight="bold" text-anchor="end" stroke="#000" stroke-width="0.6">40</text>
<text transform="translate(21 293.42) scale(0.71 0.47)" font-size="10.0" font-weight="bold" text-anchor="end" stroke="#000" stroke-width="0.6">60</text>
<text transform="translate(21 276.06) scale(0.71 0.47)" font-size="10.0" font-weight="bold" text-anchor="end" stroke="#000" stroke-width="0.6">80</text>
<text transform="translate(21 258.7) scale(0.71 0.47)" font-size="10.0" font-weight="bold" text-anchor="end" stroke="#000" stroke-width="0.6">100</text>
<text transform="translate(27 351.3) scale(0.79 0.46)" font-size="10.0" font-weight="bold" text-anchor="middle" stroke="#000" stroke-width="0.6">1</text>
<text transform="translate(59.65 351.3) scale(0.79 0.46)" font-size="10.0" font-weight="bold" text-anchor="middle" stroke="#000" stroke-width="0.6" dx="0 -0.8">10</text>
<text transform="translate(92.3 351.3) scale(0.79 0.46)" font-size="10.0" font-weight="bold" text-anchor="middle" stroke="#000" stroke-width="0.6" dx="0 -0.8">100</text>
<text transform="translate(124.95 351.3) scale(0.79 0.46)" font-size="10.0" font-weight="bold" text-anchor="middle" stroke="#000" stroke-width="0.6" dx="0 -0.8">1000</text>
<text transform="translate(157.4 351.3) scale(0.79 0.46)" font-size="10.0" font-weight="bold" text-anchor="middle" stroke="#000" stroke-width="0.6" dx="0 -0.8">10000</text>
<text transform="translate(92.2 355.5) scale(0.62 0.44)" font-size="10" font-weight="bold" text-anchor="middle" letter-spacing="1.2" stroke="#000" stroke-width="0.6">FL2–H</text>
<text transform="translate(8 298.9) rotate(-90) scale(0.5 0.68)" font-size="10" font-weight="bold" text-anchor="middle" stroke="#000" stroke-width="0.5">% of Max</text>
<path d="M204.00 342.70 C204.83 342.68 207.38 343.17 209.00 342.60 C210.62 342.03 212.23 340.52 213.70 339.30 C215.17 338.08 216.55 337.32 217.80 335.30 C219.05 333.28 220.08 330.78 221.20 327.20 C222.32 323.62 223.63 318.20 224.50 313.80 C225.37 309.40 225.85 304.78 226.40 300.80 C226.95 296.82 227.23 293.63 227.80 289.90 C228.37 286.17 229.02 282.25 229.80 278.40 C230.58 274.55 231.78 269.68 232.50 266.80 C233.22 263.92 233.68 261.10 234.10 261.10 C234.52 261.10 234.75 263.92 235.00 266.80 C235.25 269.68 235.42 274.55 235.60 278.40 C235.78 282.25 235.88 286.25 236.10 289.90 C236.32 293.55 236.58 296.32 236.90 300.30 C237.22 304.28 237.60 309.32 238.00 313.80 C238.40 318.28 238.75 323.40 239.30 327.20 C239.85 331.00 240.52 334.47 241.30 336.60 C242.08 338.73 243.22 339.35 244.00 340.00 C244.78 340.65 245.37 340.50 246.00 340.50 C246.63 340.50 247.22 339.78 247.80 340.00 C248.38 340.22 249.00 341.37 249.50 341.80 C250.00 342.23 250.22 342.43 250.80 342.60 C251.38 342.77 252.63 342.77 253.00 342.80 Z" fill="#dedede" stroke="none"/>
<path d="M204.00 342.70 C204.83 342.68 207.38 343.17 209.00 342.60 C210.62 342.03 212.23 340.52 213.70 339.30 C215.17 338.08 216.55 337.32 217.80 335.30 C219.05 333.28 220.08 330.78 221.20 327.20 C222.32 323.62 223.63 318.20 224.50 313.80 C225.37 309.40 225.85 304.78 226.40 300.80 C226.95 296.82 227.23 293.63 227.80 289.90 C228.37 286.17 229.02 282.25 229.80 278.40 C230.58 274.55 231.78 269.68 232.50 266.80 C233.22 263.92 233.68 261.10 234.10 261.10 C234.52 261.10 234.75 263.92 235.00 266.80 C235.25 269.68 235.42 274.55 235.60 278.40 C235.78 282.25 235.88 286.25 236.10 289.90 C236.32 293.55 236.58 296.32 236.90 300.30 C237.22 304.28 237.60 309.32 238.00 313.80 C238.40 318.28 238.75 323.40 239.30 327.20 C239.85 331.00 240.52 334.47 241.30 336.60 C242.08 338.73 243.22 339.35 244.00 340.00 C244.78 340.65 245.37 340.50 246.00 340.50 C246.63 340.50 247.22 339.78 247.80 340.00 C248.38 340.22 249.00 341.37 249.50 341.80 C250.00 342.23 250.22 342.43 250.80 342.60 C251.38 342.77 252.63 342.77 253.00 342.80" fill="none" stroke="#555555" stroke-width="1.0" stroke-linejoin="round"/>
<path d="M202.40 342.80 C206.17 342.80 220.75 342.85 225.00 342.80 C229.25 342.75 226.87 342.85 227.90 342.50 C228.93 342.15 230.20 341.68 231.20 340.70 C232.20 339.72 233.00 338.85 233.90 336.60 C234.80 334.35 235.82 331.00 236.60 327.20 C237.38 323.40 238.00 318.20 238.60 313.80 C239.20 309.40 239.62 304.78 240.20 300.80 C240.78 296.82 241.45 293.63 242.10 289.90 C242.75 286.17 243.57 281.28 244.10 278.40 C244.63 275.52 244.97 274.20 245.30 272.60 C245.63 271.00 245.87 269.85 246.10 268.80 C246.33 267.75 246.50 267.63 246.70 266.30 C246.90 264.97 246.98 260.72 247.30 260.80 C247.62 260.88 248.15 264.83 248.60 266.80 C249.05 268.77 249.53 270.67 250.00 272.60 C250.47 274.53 250.73 275.52 251.40 278.40 C252.07 281.28 253.25 286.17 254.00 289.90 C254.75 293.63 255.20 296.82 255.90 300.80 C256.60 304.78 257.37 309.40 258.20 313.80 C259.03 318.20 260.02 323.40 260.90 327.20 C261.78 331.00 262.62 334.35 263.50 336.60 C264.38 338.85 265.30 339.72 266.20 340.70 C267.10 341.68 267.93 342.15 268.90 342.50 C269.87 342.85 261.03 342.75 272.00 342.80 C282.97 342.85 324.25 342.80 334.70 342.80" fill="none" stroke="#080808" stroke-width="1.6" stroke-linejoin="round" stroke-linecap="round"/>
<path d="M202.4 256 H334.9 V342.8" fill="none" stroke="#6a6a6a" stroke-width="1.6"/>
<path d="M202.4 256 V342.8" fill="none" stroke="#333" stroke-width="1.3"/>
<path d="M202.4 342.8 H334.9" fill="none" stroke="#111" stroke-width="1.8"/>
<path d="M199.2 342.8H202.4M201 338.46H202.4M201 334.12H202.4M201 329.78H202.4M199.2 325.44H202.4M201 321.1H202.4M201 316.76H202.4M201 312.42H202.4M199.2 308.08H202.4M201 303.74H202.4M201 299.4H202.4M201 295.06H202.4M199.2 290.72H202.4M201 286.38H202.4M201 282.04H202.4M201 277.7H202.4M199.2 273.36H202.4M201 269.02H202.4M201 264.68H202.4M201 260.34H202.4M199.2 256H202.4M202.4 342.8V345M212.37 342.8V344M218.2 342.8V344M222.34 342.8V344M225.55 342.8V344M228.18 342.8V344M230.39 342.8V344M232.31 342.8V344M234.01 342.8V344M235.53 342.8V345M245.5 342.8V344M251.33 342.8V344M255.47 342.8V344M258.68 342.8V344M261.3 342.8V344M263.52 342.8V344M265.44 342.8V344M267.13 342.8V344M268.65 342.8V345M278.62 342.8V344M284.45 342.8V344M288.59 342.8V344M291.8 342.8V344M294.43 342.8V344M296.64 342.8V344M298.56 342.8V344M300.26 342.8V344M301.77 342.8V345M311.75 342.8V344M317.58 342.8V344M321.72 342.8V344M324.93 342.8V344M327.55 342.8V344M329.77 342.8V344M331.69 342.8V344M333.38 342.8V344M334.9 342.8V345" stroke="#222" stroke-width="0.8" fill="none"/>
<text transform="translate(197.4 345.5) scale(0.71 0.47)" font-size="10.0" font-weight="bold" text-anchor="end" stroke="#000" stroke-width="0.6">0</text>
<text transform="translate(197.4 328.14) scale(0.71 0.47)" font-size="10.0" font-weight="bold" text-anchor="end" stroke="#000" stroke-width="0.6">20</text>
<text transform="translate(197.4 310.78) scale(0.71 0.47)" font-size="10.0" font-weight="bold" text-anchor="end" stroke="#000" stroke-width="0.6">40</text>
<text transform="translate(197.4 293.42) scale(0.71 0.47)" font-size="10.0" font-weight="bold" text-anchor="end" stroke="#000" stroke-width="0.6">60</text>
<text transform="translate(197.4 276.06) scale(0.71 0.47)" font-size="10.0" font-weight="bold" text-anchor="end" stroke="#000" stroke-width="0.6">80</text>
<text transform="translate(197.4 258.7) scale(0.71 0.47)" font-size="10.0" font-weight="bold" text-anchor="end" stroke="#000" stroke-width="0.6">100</text>
<text transform="translate(203.4 351.3) scale(0.79 0.46)" font-size="10.0" font-weight="bold" text-anchor="middle" stroke="#000" stroke-width="0.6">1</text>
<text transform="translate(236.22 351.3) scale(0.79 0.46)" font-size="10.0" font-weight="bold" text-anchor="middle" stroke="#000" stroke-width="0.6" dx="0 -0.8">10</text>
<text transform="translate(269.05 351.3) scale(0.79 0.46)" font-size="10.0" font-weight="bold" text-anchor="middle" stroke="#000" stroke-width="0.6" dx="0 -0.8">100</text>
<text transform="translate(301.88 351.3) scale(0.79 0.46)" font-size="10.0" font-weight="bold" text-anchor="middle" stroke="#000" stroke-width="0.6" dx="0 -0.8">1000</text>
<text transform="translate(334.5 351.3) scale(0.79 0.46)" font-size="10.0" font-weight="bold" text-anchor="middle" stroke="#000" stroke-width="0.6" dx="0 -0.8">10000</text>
<text transform="translate(268.95 355.5) scale(0.62 0.44)" font-size="10" font-weight="bold" text-anchor="middle" letter-spacing="1.2" stroke="#000" stroke-width="0.6">FL2–H</text>
<text transform="translate(184.4 298.9) rotate(-90) scale(0.5 0.68)" font-size="10" font-weight="bold" text-anchor="middle" stroke="#000" stroke-width="0.5">% of Max</text>
<path d="M26.00 473.60 L33.00 473.50 L36.80 473.00 L39.90 470.70 L41.10 469.53 L42.30 468.36 L43.50 467.50 L44.70 465.64 L45.90 463.60 L47.25 461.34 L48.60 459.60 L50.20 453.50 L51.80 451.70 L53.70 443.90 L54.80 436.00 L55.70 428.10 L56.70 420.20 L57.90 410.20 L59.00 400.60 L59.90 394.20 L60.50 391.70 L61.20 393.70 L62.00 400.60 L62.70 410.20 L63.20 420.20 L64.80 436.00 L65.80 443.90 L67.20 451.70 L68.30 459.60 L69.10 463.60 L71.00 465.40 L72.05 466.22 L73.10 467.00 L74.10 467.67 L75.10 468.50 L76.23 468.90 L77.37 469.84 L78.50 470.50 L81.80 472.00 L85.00 473.20 L88.00 473.60 Z" fill="#dedede" stroke="none"/>
<path d="M26.00 473.60 L33.00 473.50 L36.80 473.00 L39.90 470.70 L41.10 469.53 L42.30 468.36 L43.50 467.50 L44.70 465.64 L45.90 463.60 L47.25 461.34 L48.60 459.60 L50.20 453.50 L51.80 451.70 L53.70 443.90 L54.80 436.00 L55.70 428.10 L56.70 420.20 L57.90 410.20 L59.00 400.60 L59.90 394.20 L60.50 391.70 L61.20 393.70 L62.00 400.60 L62.70 410.20 L63.20 420.20 L64.80 436.00 L65.80 443.90 L67.20 451.70 L68.30 459.60 L69.10 463.60 L71.00 465.40 L72.05 466.22 L73.10 467.00 L74.10 467.67 L75.10 468.50 L76.23 468.90 L77.37 469.84 L78.50 470.50 L81.80 472.00 L85.00 473.20 L88.00 473.60" fill="none" stroke="#555555" stroke-width="1.0" stroke-linejoin="round"/>
<path d="M24.00 473.70 C25.00 473.70 32.80 473.71 34.00 473.70 C35.20 473.69 35.68 473.65 36.00 473.60 C36.32 473.55 36.94 473.21 37.17 473.17 C37.41 473.12 38.12 473.17 38.35 473.13 C38.59 473.09 39.29 472.81 39.53 472.76 C39.76 472.71 40.48 472.65 40.70 472.60 C40.92 472.55 41.55 472.37 41.77 472.31 C41.98 472.24 42.62 472.04 42.83 471.95 C43.05 471.87 43.66 471.64 43.90 471.50 C44.14 471.36 44.94 470.70 45.20 470.53 C45.46 470.36 46.24 469.93 46.50 469.83 C46.76 469.72 47.55 469.57 47.80 469.50 C48.05 469.43 48.76 469.26 49.00 469.14 C49.24 469.02 49.96 468.44 50.20 468.30 C50.44 468.16 51.16 467.81 51.40 467.73 C51.64 467.65 52.37 467.55 52.60 467.50 C52.84 467.45 53.52 467.27 53.75 467.26 C53.98 467.25 54.66 467.31 54.90 467.40 C55.13 467.49 55.86 468.11 56.10 468.20 C56.34 468.29 57.06 468.31 57.30 468.30 C57.54 468.29 58.26 468.12 58.50 468.08 C58.74 468.04 59.43 467.76 59.70 467.90 C59.97 468.04 60.93 469.42 61.20 469.50 C61.47 469.58 62.16 468.94 62.40 468.74 C62.64 468.54 63.37 467.69 63.60 467.50 C63.83 467.31 64.45 466.94 64.67 466.82 C64.88 466.69 65.52 466.40 65.73 466.26 C65.95 466.13 66.54 465.65 66.80 465.50 C67.06 465.35 68.03 465.03 68.30 464.80 C68.57 464.57 69.26 463.72 69.50 463.20 C69.74 462.68 70.46 460.43 70.70 459.60 C70.94 458.77 71.66 456.08 71.90 454.90 C72.14 453.72 72.90 449.30 73.10 447.80 C73.30 446.30 73.75 441.87 73.90 439.90 C74.05 437.93 74.47 430.07 74.60 428.10 C74.73 426.13 75.03 421.99 75.20 420.20 C75.37 418.41 76.06 412.16 76.30 410.20 C76.54 408.24 77.35 402.20 77.60 400.60 C77.85 399.00 78.59 395.05 78.80 394.20 C79.01 393.35 79.52 392.15 79.70 392.10 C79.88 392.05 80.40 392.85 80.60 393.70 C80.80 394.55 81.50 398.95 81.70 400.60 C81.90 402.25 82.44 408.24 82.60 410.20 C82.76 412.16 83.13 418.08 83.30 420.20 C83.47 422.32 84.14 429.40 84.30 431.40 C84.46 433.40 84.78 437.97 84.90 440.20 C85.02 442.43 85.37 451.68 85.50 453.70 C85.63 455.72 86.03 459.07 86.20 460.40 C86.37 461.73 86.90 465.86 87.20 467.00 C87.50 468.14 88.86 471.15 89.20 471.80 C89.54 472.45 90.22 473.31 90.60 473.50 C90.98 473.69 86.52 473.68 93.00 473.70 C99.48 473.72 149.16 473.70 155.40 473.70" fill="none" stroke="#080808" stroke-width="1.6" stroke-linejoin="round" stroke-linecap="round"/>
<path d="M24 386.8 H155.6 V473.7" fill="none" stroke="#6a6a6a" stroke-width="1.6"/>
<path d="M24 386.8 V473.7" fill="none" stroke="#333" stroke-width="1.3"/>
<path d="M24 473.7 H155.6" fill="none" stroke="#111" stroke-width="1.8"/>
<path d="M20.8 473.7H24M22.6 469.36H24M22.6 465.01H24M22.6 460.66H24M20.8 456.32H24M22.6 451.98H24M22.6 447.63H24M22.6 443.29H24M20.8 438.94H24M22.6 434.6H24M22.6 430.25H24M22.6 425.9H24M20.8 421.56H24M22.6 417.22H24M22.6 412.87H24M22.6 408.52H24M20.8 404.18H24M22.6 399.84H24M22.6 395.49H24M22.6 391.14H24M20.8 386.8H24M24 473.7V475.9M33.9 473.7V474.9M39.7 473.7V474.9M43.81 473.7V474.9M47 473.7V474.9M49.6 473.7V474.9M51.8 473.7V474.9M53.71 473.7V474.9M55.39 473.7V474.9M56.9 473.7V475.9M66.8 473.7V474.9M72.6 473.7V474.9M76.71 473.7V474.9M79.9 473.7V474.9M82.5 473.7V474.9M84.7 473.7V474.9M86.61 473.7V474.9M88.29 473.7V474.9M89.8 473.7V475.9M99.7 473.7V474.9M105.5 473.7V474.9M109.61 473.7V474.9M112.8 473.7V474.9M115.4 473.7V474.9M117.6 473.7V474.9M119.51 473.7V474.9M121.19 473.7V474.9M122.7 473.7V475.9M132.6 473.7V474.9M138.4 473.7V474.9M142.51 473.7V474.9M145.7 473.7V474.9M148.3 473.7V474.9M150.5 473.7V474.9M152.41 473.7V474.9M154.09 473.7V474.9M155.6 473.7V475.9" stroke="#222" stroke-width="0.8" fill="none"/>
<text transform="translate(19 476.4) scale(0.71 0.47)" font-size="10.0" font-weight="bold" text-anchor="end" stroke="#000" stroke-width="0.6">0</text>
<text transform="translate(19 459.02) scale(0.71 0.47)" font-size="10.0" font-weight="bold" text-anchor="end" stroke="#000" stroke-width="0.6">20</text>
<text transform="translate(19 441.64) scale(0.71 0.47)" font-size="10.0" font-weight="bold" text-anchor="end" stroke="#000" stroke-width="0.6">40</text>
<text transform="translate(19 424.26) scale(0.71 0.47)" font-size="10.0" font-weight="bold" text-anchor="end" stroke="#000" stroke-width="0.6">60</text>
<text transform="translate(19 406.88) scale(0.71 0.47)" font-size="10.0" font-weight="bold" text-anchor="end" stroke="#000" stroke-width="0.6">80</text>
<text transform="translate(19 389.5) scale(0.71 0.47)" font-size="10.0" font-weight="bold" text-anchor="end" stroke="#000" stroke-width="0.6">100</text>
<text transform="translate(25 482.2) scale(0.79 0.46)" font-size="10.0" font-weight="bold" text-anchor="middle" stroke="#000" stroke-width="0.6">1</text>
<text transform="translate(57.6 482.2) scale(0.79 0.46)" font-size="10.0" font-weight="bold" text-anchor="middle" stroke="#000" stroke-width="0.6" dx="0 -0.8">10</text>
<text transform="translate(90.2 482.2) scale(0.79 0.46)" font-size="10.0" font-weight="bold" text-anchor="middle" stroke="#000" stroke-width="0.6" dx="0 -0.8">100</text>
<text transform="translate(122.8 482.2) scale(0.79 0.46)" font-size="10.0" font-weight="bold" text-anchor="middle" stroke="#000" stroke-width="0.6" dx="0 -0.8">1000</text>
<text transform="translate(155.2 482.2) scale(0.79 0.46)" font-size="10.0" font-weight="bold" text-anchor="middle" stroke="#000" stroke-width="0.6" dx="0 -0.8">10000</text>
<text transform="translate(90.1 486.4) scale(0.62 0.44)" font-size="10" font-weight="bold" text-anchor="middle" letter-spacing="1.2" stroke="#000" stroke-width="0.6">FL2–H</text>
<text transform="translate(6 429.75) rotate(-90) scale(0.5 0.68)" font-size="10" font-weight="bold" text-anchor="middle" stroke="#000" stroke-width="0.5">% of Max</text>
<path d="M201.00 473.60 L208.00 473.50 L211.80 472.60 L213.25 471.24 L214.70 470.20 L216.60 468.30 L217.68 467.38 L218.75 465.68 L219.82 464.82 L220.90 463.50 L222.35 460.85 L223.80 458.70 L225.00 455.65 L226.20 452.90 L228.10 449.00 L229.60 439.40 L230.80 429.80 L231.50 422.20 L232.30 415.00 L233.20 405.40 L234.10 395.80 L235.40 392.70 L236.30 392.00 L237.00 393.20 L237.50 395.80 L238.00 405.40 L238.80 415.00 L239.20 422.20 L239.50 429.80 L240.60 439.40 L242.10 449.00 L244.00 458.70 L244.90 463.50 L245.60 464.80 L247.30 465.90 L250.20 469.20 L252.40 471.50 L255.50 470.70 L257.90 472.20 L261.80 473.00 L264.00 473.50 L266.00 473.70 Z" fill="#dedede" stroke="none"/>
<path d="M201.00 473.60 L208.00 473.50 L211.80 472.60 L213.25 471.24 L214.70 470.20 L216.60 468.30 L217.68 467.38 L218.75 465.68 L219.82 464.82 L220.90 463.50 L222.35 460.85 L223.80 458.70 L225.00 455.65 L226.20 452.90 L228.10 449.00 L229.60 439.40 L230.80 429.80 L231.50 422.20 L232.30 415.00 L233.20 405.40 L234.10 395.80 L235.40 392.70 L236.30 392.00 L237.00 393.20 L237.50 395.80 L238.00 405.40 L238.80 415.00 L239.20 422.20 L239.50 429.80 L240.60 439.40 L242.10 449.00 L244.00 458.70 L244.90 463.50 L245.60 464.80 L247.30 465.90 L250.20 469.20 L252.40 471.50 L255.50 470.70 L257.90 472.20 L261.80 473.00 L264.00 473.50 L266.00 473.70" fill="none" stroke="#555555" stroke-width="1.0" stroke-linejoin="round"/>
<path d="M199.20 473.70 C199.88 473.70 204.94 473.76 206.00 473.70 C207.06 473.64 209.32 473.23 209.80 473.10 C210.28 472.97 210.60 472.52 210.80 472.42 C211.00 472.32 211.56 472.23 211.80 472.10 C212.05 471.97 212.96 471.26 213.25 471.12 C213.54 470.98 214.41 470.80 214.70 470.70 C214.98 470.60 215.82 470.23 216.10 470.13 C216.38 470.03 217.23 469.80 217.50 469.70 C217.77 469.60 218.54 469.25 218.80 469.16 C219.06 469.07 219.84 468.83 220.10 468.80 C220.36 468.76 221.14 468.84 221.40 468.80 C221.66 468.76 222.41 468.44 222.67 468.40 C222.92 468.36 223.68 468.49 223.93 468.43 C224.19 468.37 224.93 467.89 225.20 467.80 C225.47 467.71 226.36 467.61 226.65 467.51 C226.94 467.41 227.83 466.88 228.10 466.80 C228.37 466.72 229.06 466.75 229.30 466.69 C229.54 466.63 230.24 466.28 230.50 466.20 C230.76 466.12 231.66 465.89 231.95 465.86 C232.24 465.83 233.12 465.76 233.40 465.90 C233.69 466.04 234.56 467.11 234.80 467.30 C235.04 467.49 235.60 467.73 235.80 467.83 C236.00 467.93 236.51 468.20 236.80 468.30 C237.09 468.40 238.32 468.71 238.70 468.80 C239.08 468.89 240.29 469.27 240.60 469.20 C240.91 469.13 241.56 468.28 241.80 468.09 C242.04 467.90 242.64 467.65 243.00 467.30 C243.36 466.95 245.01 465.08 245.40 464.60 C245.79 464.12 246.61 463.29 246.90 462.50 C247.19 461.71 248.01 457.76 248.30 456.70 C248.59 455.64 249.53 453.15 249.80 451.90 C250.07 450.65 250.80 445.93 251.00 444.20 C251.20 442.47 251.66 436.52 251.80 434.60 C251.94 432.68 252.29 426.96 252.40 425.00 C252.51 423.04 252.77 416.96 252.90 415.00 C253.03 413.04 253.51 407.32 253.70 405.40 C253.89 403.48 254.59 397.07 254.80 395.80 C255.01 394.53 255.63 393.10 255.80 392.70 C255.97 392.30 256.36 391.80 256.50 391.80 C256.64 391.80 257.03 392.30 257.20 392.70 C257.37 393.10 258.01 394.53 258.20 395.80 C258.39 397.07 258.94 403.48 259.10 405.40 C259.26 407.32 259.69 413.52 259.80 415.00 C259.91 416.48 260.12 418.89 260.20 420.20 C260.28 421.51 260.50 426.52 260.60 428.10 C260.70 429.68 261.09 434.42 261.20 436.00 C261.31 437.58 261.52 442.33 261.70 443.90 C261.88 445.47 262.71 450.13 263.00 451.70 C263.29 453.27 264.32 458.41 264.60 459.60 C264.88 460.79 265.49 462.81 265.80 463.60 C266.11 464.39 267.23 466.79 267.70 467.50 C268.17 468.21 269.90 470.19 270.50 470.70 C271.10 471.21 273.15 472.31 273.70 472.60 C274.25 472.89 275.47 473.49 276.00 473.60 C276.53 473.71 273.50 473.69 279.00 473.70 C284.50 473.71 325.80 473.70 331.00 473.70" fill="none" stroke="#080808" stroke-width="1.6" stroke-linejoin="round" stroke-linecap="round"/>
<path d="M199.2 386.8 H331.2 V473.7" fill="none" stroke="#6a6a6a" stroke-width="1.6"/>
<path d="M199.2 386.8 V473.7" fill="none" stroke="#333" stroke-width="1.3"/>
<path d="M199.2 473.7 H331.2" fill="none" stroke="#111" stroke-width="1.8"/>
<path d="M196 473.7H199.2M197.8 469.36H199.2M197.8 465.01H199.2M197.8 460.66H199.2M196 456.32H199.2M197.8 451.98H199.2M197.8 447.63H199.2M197.8 443.29H199.2M196 438.94H199.2M197.8 434.6H199.2M197.8 430.25H199.2M197.8 425.9H199.2M196 421.56H199.2M197.8 417.22H199.2M197.8 412.87H199.2M197.8 408.52H199.2M196 404.18H199.2M197.8 399.84H199.2M197.8 395.49H199.2M197.8 391.14H199.2M196 386.8H199.2M199.2 473.7V475.9M209.13 473.7V474.9M214.95 473.7V474.9M219.07 473.7V474.9M222.27 473.7V474.9M224.88 473.7V474.9M227.09 473.7V474.9M229 473.7V474.9M230.69 473.7V474.9M232.2 473.7V475.9M242.13 473.7V474.9M247.95 473.7V474.9M252.07 473.7V474.9M255.27 473.7V474.9M257.88 473.7V474.9M260.09 473.7V474.9M262 473.7V474.9M263.69 473.7V474.9M265.2 473.7V475.9M275.13 473.7V474.9M280.95 473.7V474.9M285.07 473.7V474.9M288.27 473.7V474.9M290.88 473.7V474.9M293.09 473.7V474.9M295 473.7V474.9M296.69 473.7V474.9M298.2 473.7V475.9M308.13 473.7V474.9M313.95 473.7V474.9M318.07 473.7V474.9M321.27 473.7V474.9M323.88 473.7V474.9M326.09 473.7V474.9M328 473.7V474.9M329.69 473.7V474.9M331.2 473.7V475.9" stroke="#222" stroke-width="0.8" fill="none"/>
<text transform="translate(194.2 476.4) scale(0.71 0.47)" font-size="10.0" font-weight="bold" text-anchor="end" stroke="#000" stroke-width="0.6">0</text>
<text transform="translate(194.2 459.02) scale(0.71 0.47)" font-size="10.0" font-weight="bold" text-anchor="end" stroke="#000" stroke-width="0.6">20</text>
<text transform="translate(194.2 441.64) scale(0.71 0.47)" font-size="10.0" font-weight="bold" text-anchor="end" stroke="#000" stroke-width="0.6">40</text>
<text transform="translate(194.2 424.26) scale(0.71 0.47)" font-size="10.0" font-weight="bold" text-anchor="end" stroke="#000" stroke-width="0.6">60</text>
<text transform="translate(194.2 406.88) scale(0.71 0.47)" font-size="10.0" font-weight="bold" text-anchor="end" stroke="#000" stroke-width="0.6">80</text>
<text transform="translate(194.2 389.5) scale(0.71 0.47)" font-size="10.0" font-weight="bold" text-anchor="end" stroke="#000" stroke-width="0.6">100</text>
<text transform="translate(200.2 482.2) scale(0.79 0.46)" font-size="10.0" font-weight="bold" text-anchor="middle" stroke="#000" stroke-width="0.6">1</text>
<text transform="translate(232.9 482.2) scale(0.79 0.46)" font-size="10.0" font-weight="bold" text-anchor="middle" stroke="#000" stroke-width="0.6" dx="0 -0.8">10</text>
<text transform="translate(265.6 482.2) scale(0.79 0.46)" font-size="10.0" font-weight="bold" text-anchor="middle" stroke="#000" stroke-width="0.6" dx="0 -0.8">100</text>
<text transform="translate(298.3 482.2) scale(0.79 0.46)" font-size="10.0" font-weight="bold" text-anchor="middle" stroke="#000" stroke-width="0.6" dx="0 -0.8">1000</text>
<text transform="translate(330.8 482.2) scale(0.79 0.46)" font-size="10.0" font-weight="bold" text-anchor="middle" stroke="#000" stroke-width="0.6" dx="0 -0.8">10000</text>
<text transform="translate(265.5 486.4) scale(0.62 0.44)" font-size="10" font-weight="bold" text-anchor="middle" letter-spacing="1.2" stroke="#000" stroke-width="0.6">FL2–H</text>
<text transform="translate(181.2 429.75) rotate(-90) scale(0.5 0.68)" font-size="10" font-weight="bold" text-anchor="middle" stroke="#000" stroke-width="0.5">% of Max</text>
<path d="M26.00 584.10 L32.00 584.00 L35.30 583.10 L36.57 582.28 L37.83 581.42 L39.10 580.70 L40.55 579.28 L42.00 578.30 L43.30 576.92 L44.60 574.80 L45.90 573.50 L47.35 571.10 L48.80 568.70 L50.20 564.80 L51.30 562.90 L52.90 559.00 L54.50 549.40 L55.30 539.80 L56.10 528.20 L56.90 519.30 L57.70 511.60 L58.30 506.20 L59.30 503.70 L60.40 501.40 L61.00 504.20 L61.40 507.70 L62.30 519.30 L62.90 527.00 L63.50 534.70 L64.60 549.40 L66.10 559.00 L67.30 563.90 L68.00 568.70 L69.40 573.50 L71.30 576.40 L72.75 578.04 L74.20 579.20 L75.65 580.40 L77.10 582.10 L78.30 582.68 L79.50 583.20 L82.50 584.00 L86.00 584.20 Z" fill="#dedede" stroke="none"/>
<path d="M26.00 584.10 L32.00 584.00 L35.30 583.10 L36.57 582.28 L37.83 581.42 L39.10 580.70 L40.55 579.28 L42.00 578.30 L43.30 576.92 L44.60 574.80 L45.90 573.50 L47.35 571.10 L48.80 568.70 L50.20 564.80 L51.30 562.90 L52.90 559.00 L54.50 549.40 L55.30 539.80 L56.10 528.20 L56.90 519.30 L57.70 511.60 L58.30 506.20 L59.30 503.70 L60.40 501.40 L61.00 504.20 L61.40 507.70 L62.30 519.30 L62.90 527.00 L63.50 534.70 L64.60 549.40 L66.10 559.00 L67.30 563.90 L68.00 568.70 L69.40 573.50 L71.30 576.40 L72.75 578.04 L74.20 579.20 L75.65 580.40 L77.10 582.10 L78.30 582.68 L79.50 583.20 L82.50 584.00 L86.00 584.20" fill="none" stroke="#555555" stroke-width="1.0" stroke-linejoin="round"/>
<path d="M24.00 584.20 C24.60 584.19 29.02 584.13 30.00 584.10 C30.98 584.07 33.22 584.02 33.80 583.90 C34.38 583.78 35.45 583.06 35.80 582.90 C36.14 582.74 36.96 582.47 37.25 582.34 C37.54 582.21 38.42 581.73 38.70 581.60 C38.98 581.47 39.82 581.21 40.10 581.07 C40.38 580.93 41.22 580.32 41.50 580.20 C41.78 580.08 42.66 580.01 42.95 579.91 C43.24 579.81 44.11 579.31 44.40 579.20 C44.69 579.09 45.56 578.95 45.85 578.81 C46.14 578.67 47.01 577.91 47.30 577.80 C47.59 577.69 48.46 577.77 48.75 577.72 C49.04 577.67 49.91 577.43 50.20 577.30 C50.49 577.17 51.36 576.64 51.65 576.40 C51.94 576.16 52.81 575.20 53.10 574.90 C53.39 574.60 54.26 573.61 54.55 573.37 C54.84 573.13 55.73 572.68 56.00 572.50 C56.27 572.32 56.96 571.72 57.20 571.53 C57.44 571.34 58.09 570.79 58.40 570.60 C58.71 570.41 59.92 569.60 60.30 569.60 C60.68 569.60 61.86 570.79 62.20 570.60 C62.54 570.41 63.41 568.37 63.70 567.70 C63.99 567.03 64.86 564.77 65.10 563.90 C65.34 563.03 65.91 560.45 66.10 559.00 C66.29 557.55 66.83 551.32 67.00 549.40 C67.17 547.48 67.67 541.72 67.80 539.80 C67.93 537.88 68.20 531.76 68.30 530.20 C68.40 528.64 68.69 525.29 68.80 524.20 C68.91 523.11 69.26 520.18 69.40 519.30 C69.54 518.42 69.95 516.56 70.20 515.40 C70.45 514.24 71.67 509.10 71.90 507.70 C72.13 506.30 72.40 501.40 72.50 501.40 C72.60 501.40 72.75 505.91 72.90 507.70 C73.05 509.49 73.81 517.37 74.00 519.30 C74.19 521.23 74.66 525.46 74.80 527.00 C74.94 528.54 75.26 532.46 75.40 534.70 C75.54 536.94 76.03 546.97 76.20 549.40 C76.37 551.83 76.91 557.07 77.10 559.00 C77.29 560.93 77.91 566.96 78.10 568.70 C78.29 570.44 78.82 575.25 79.00 576.40 C79.18 577.55 79.68 579.59 79.90 580.20 C80.12 580.81 80.79 582.12 81.20 582.50 C81.61 582.88 83.42 583.83 84.00 584.00 C84.58 584.17 79.84 584.18 87.00 584.20 C94.16 584.22 148.74 584.20 155.60 584.20" fill="none" stroke="#080808" stroke-width="1.6" stroke-linejoin="round" stroke-linecap="round"/>
<path d="M24 497.1 H155.6 V584.2" fill="none" stroke="#6a6a6a" stroke-width="1.6"/>
<path d="M24 497.1 V584.2" fill="none" stroke="#333" stroke-width="1.3"/>
<path d="M24 584.2 H155.6" fill="none" stroke="#111" stroke-width="1.8"/>
<path d="M20.8 584.2H24M22.6 579.85H24M22.6 575.49H24M22.6 571.13H24M20.8 566.78H24M22.6 562.43H24M22.6 558.07H24M22.6 553.72H24M20.8 549.36H24M22.6 545H24M22.6 540.65H24M22.6 536.3H24M20.8 531.94H24M22.6 527.59H24M22.6 523.23H24M22.6 518.88H24M20.8 514.52H24M22.6 510.17H24M22.6 505.81H24M22.6 501.46H24M20.8 497.1H24M24 584.2V586.4M33.9 584.2V585.4M39.7 584.2V585.4M43.81 584.2V585.4M47 584.2V585.4M49.6 584.2V585.4M51.8 584.2V585.4M53.71 584.2V585.4M55.39 584.2V585.4M56.9 584.2V586.4M66.8 584.2V585.4M72.6 584.2V585.4M76.71 584.2V585.4M79.9 584.2V585.4M82.5 584.2V585.4M84.7 584.2V585.4M86.61 584.2V585.4M88.29 584.2V585.4M89.8 584.2V586.4M99.7 584.2V585.4M105.5 584.2V585.4M109.61 584.2V585.4M112.8 584.2V585.4M115.4 584.2V585.4M117.6 584.2V585.4M119.51 584.2V585.4M121.19 584.2V585.4M122.7 584.2V586.4M132.6 584.2V585.4M138.4 584.2V585.4M142.51 584.2V585.4M145.7 584.2V585.4M148.3 584.2V585.4M150.5 584.2V585.4M152.41 584.2V585.4M154.09 584.2V585.4M155.6 584.2V586.4" stroke="#222" stroke-width="0.8" fill="none"/>
<text transform="translate(19 586.9) scale(0.71 0.47)" font-size="10.0" font-weight="bold" text-anchor="end" stroke="#000" stroke-width="0.6">0</text>
<text transform="translate(19 569.48) scale(0.71 0.47)" font-size="10.0" font-weight="bold" text-anchor="end" stroke="#000" stroke-width="0.6">20</text>
<text transform="translate(19 552.06) scale(0.71 0.47)" font-size="10.0" font-weight="bold" text-anchor="end" stroke="#000" stroke-width="0.6">40</text>
<text transform="translate(19 534.64) scale(0.71 0.47)" font-size="10.0" font-weight="bold" text-anchor="end" stroke="#000" stroke-width="0.6">60</text>
<text transform="translate(19 517.22) scale(0.71 0.47)" font-size="10.0" font-weight="bold" text-anchor="end" stroke="#000" stroke-width="0.6">80</text>
<text transform="translate(19 499.8) scale(0.71 0.47)" font-size="10.0" font-weight="bold" text-anchor="end" stroke="#000" stroke-width="0.6">100</text>
<text transform="translate(25 592.7) scale(0.79 0.46)" font-size="10.0" font-weight="bold" text-anchor="middle" stroke="#000" stroke-width="0.6">1</text>
<text transform="translate(57.6 592.7) scale(0.79 0.46)" font-size="10.0" font-weight="bold" text-anchor="middle" stroke="#000" stroke-width="0.6" dx="0 -0.8">10</text>
<text transform="translate(90.2 592.7) scale(0.79 0.46)" font-size="10.0" font-weight="bold" text-anchor="middle" stroke="#000" stroke-width="0.6" dx="0 -0.8">100</text>
<text transform="translate(122.8 592.7) scale(0.79 0.46)" font-size="10.0" font-weight="bold" text-anchor="middle" stroke="#000" stroke-width="0.6" dx="0 -0.8">1000</text>
<text transform="translate(155.2 592.7) scale(0.79 0.46)" font-size="10.0" font-weight="bold" text-anchor="middle" stroke="#000" stroke-width="0.6" dx="0 -0.8">10000</text>
<text transform="translate(90.1 596.9) scale(0.62 0.44)" font-size="10" font-weight="bold" text-anchor="middle" letter-spacing="1.2" stroke="#000" stroke-width="0.6">FL2–H</text>
<text transform="translate(6 540.15) rotate(-90) scale(0.5 0.68)" font-size="10" font-weight="bold" text-anchor="middle" stroke="#000" stroke-width="0.5">% of Max</text>
<path d="M201.00 584.10 L207.00 584.00 L210.80 583.30 L211.93 582.74 L213.07 582.06 L214.20 581.50 L215.37 580.58 L216.53 579.39 L217.70 578.60 L219.10 577.34 L220.50 575.70 L222.30 574.00 L224.00 569.40 L225.15 566.69 L226.30 563.60 L227.55 558.94 L228.80 554.10 L230.50 539.60 L231.90 525.20 L232.70 515.20 L233.30 509.20 L233.80 505.80 L234.80 503.20 L235.80 502.40 L236.60 503.70 L237.30 507.20 L237.90 515.20 L238.60 525.20 L239.40 539.60 L240.60 554.10 L242.50 564.80 L243.50 567.80 L244.50 571.20 L245.95 573.46 L247.40 575.70 L248.47 576.96 L249.53 578.28 L250.60 579.80 L251.60 580.82 L252.60 581.60 L253.60 581.78 L254.60 582.80 L258.00 584.00 L261.00 584.20 Z" fill="#dedede" stroke="none"/>
<path d="M201.00 584.10 L207.00 584.00 L210.80 583.30 L211.93 582.74 L213.07 582.06 L214.20 581.50 L215.37 580.58 L216.53 579.39 L217.70 578.60 L219.10 577.34 L220.50 575.70 L222.30 574.00 L224.00 569.40 L225.15 566.69 L226.30 563.60 L227.55 558.94 L228.80 554.10 L230.50 539.60 L231.90 525.20 L232.70 515.20 L233.30 509.20 L233.80 505.80 L234.80 503.20 L235.80 502.40 L236.60 503.70 L237.30 507.20 L237.90 515.20 L238.60 525.20 L239.40 539.60 L240.60 554.10 L242.50 564.80 L243.50 567.80 L244.50 571.20 L245.95 573.46 L247.40 575.70 L248.47 576.96 L249.53 578.28 L250.60 579.80 L251.60 580.82 L252.60 581.60 L253.60 581.78 L254.60 582.80 L258.00 584.00 L261.00 584.20" fill="none" stroke="#555555" stroke-width="1.0" stroke-linejoin="round"/>
<path d="M199.20 584.20 C199.78 584.20 204.19 584.21 205.00 584.20 C205.81 584.19 206.95 584.12 207.30 584.10 C207.65 584.08 208.23 584.07 208.47 584.04 C208.70 584.01 209.40 583.87 209.63 583.79 C209.87 583.72 210.57 583.41 210.80 583.30 C211.03 583.19 211.71 582.83 211.93 582.69 C212.16 582.55 212.84 582.05 213.07 581.93 C213.29 581.81 213.97 581.67 214.20 581.50 C214.43 581.33 215.13 580.37 215.37 580.18 C215.60 580.00 216.30 579.84 216.53 579.68 C216.77 579.52 217.47 578.82 217.70 578.60 C217.93 578.38 218.61 577.65 218.83 577.45 C219.06 577.24 219.74 576.74 219.97 576.52 C220.19 576.29 220.87 575.46 221.10 575.20 C221.33 574.94 222.06 574.19 222.30 573.96 C222.54 573.73 223.24 573.22 223.50 572.90 C223.76 572.58 224.62 571.25 224.90 570.79 C225.18 570.33 226.02 568.85 226.30 568.30 C226.59 567.75 227.46 565.82 227.75 565.24 C228.04 564.66 228.86 563.61 229.20 562.50 C229.53 561.39 230.74 556.39 231.10 554.10 C231.46 551.81 232.46 542.49 232.80 539.60 C233.14 536.71 234.22 527.44 234.50 525.20 C234.78 522.96 235.36 518.70 235.60 517.20 C235.84 515.70 236.68 511.30 236.90 510.20 C237.12 509.10 237.61 506.92 237.80 506.20 C237.99 505.48 238.62 503.46 238.80 503.00 C238.98 502.54 239.47 501.48 239.60 501.60 C239.73 501.72 240.01 503.34 240.10 504.20 C240.19 505.06 240.41 508.80 240.50 510.20 C240.59 511.60 240.91 516.70 241.00 518.20 C241.09 519.70 241.24 523.06 241.40 525.20 C241.56 527.34 242.34 536.71 242.60 539.60 C242.86 542.49 243.73 551.74 244.00 554.10 C244.27 556.46 244.99 561.54 245.30 563.20 C245.61 564.86 246.69 569.37 247.10 570.70 C247.51 572.03 248.82 575.48 249.40 576.50 C249.98 577.52 252.15 580.22 252.90 580.90 C253.65 581.58 256.04 582.98 256.90 583.30 C257.76 583.62 260.69 584.01 261.50 584.10 C262.31 584.19 258.03 584.19 265.00 584.20 C271.97 584.21 324.58 584.20 331.20 584.20" fill="none" stroke="#080808" stroke-width="1.6" stroke-linejoin="round" stroke-linecap="round"/>
<path d="M199.2 497.1 H331.2 V584.2" fill="none" stroke="#6a6a6a" stroke-width="1.6"/>
<path d="M199.2 497.1 V584.2" fill="none" stroke="#333" stroke-width="1.3"/>
<path d="M199.2 584.2 H331.2" fill="none" stroke="#111" stroke-width="1.8"/>
<path d="M196 584.2H199.2M197.8 579.85H199.2M197.8 575.49H199.2M197.8 571.13H199.2M196 566.78H199.2M197.8 562.43H199.2M197.8 558.07H199.2M197.8 553.72H199.2M196 549.36H199.2M197.8 545H199.2M197.8 540.65H199.2M197.8 536.3H199.2M196 531.94H199.2M197.8 527.59H199.2M197.8 523.23H199.2M197.8 518.88H199.2M196 514.52H199.2M197.8 510.17H199.2M197.8 505.81H199.2M197.8 501.46H199.2M196 497.1H199.2M199.2 584.2V586.4M209.13 584.2V585.4M214.95 584.2V585.4M219.07 584.2V585.4M222.27 584.2V585.4M224.88 584.2V585.4M227.09 584.2V585.4M229 584.2V585.4M230.69 584.2V585.4M232.2 584.2V586.4M242.13 584.2V585.4M247.95 584.2V585.4M252.07 584.2V585.4M255.27 584.2V585.4M257.88 584.2V585.4M260.09 584.2V585.4M262 584.2V585.4M263.69 584.2V585.4M265.2 584.2V586.4M275.13 584.2V585.4M280.95 584.2V585.4M285.07 584.2V585.4M288.27 584.2V585.4M290.88 584.2V585.4M293.09 584.2V585.4M295 584.2V585.4M296.69 584.2V585.4M298.2 584.2V586.4M308.13 584.2V585.4M313.95 584.2V585.4M318.07 584.2V585.4M321.27 584.2V585.4M323.88 584.2V585.4M326.09 584.2V585.4M328 584.2V585.4M329.69 584.2V585.4M331.2 584.2V586.4" stroke="#222" stroke-width="0.8" fill="none"/>
<text transform="translate(194.2 586.9) scale(0.71 0.47)" font-size="10.0" font-weight="bold" text-anchor="end" stroke="#000" stroke-width="0.6">0</text>
<text transform="translate(194.2 569.48) scale(0.71 0.47)" font-size="10.0" font-weight="bold" text-anchor="end" stroke="#000" stroke-width="0.6">20</text>
<text transform="translate(194.2 552.06) scale(0.71 0.47)" font-size="10.0" font-weight="bold" text-anchor="end" stroke="#000" stroke-width="0.6">40</text>
<text transform="translate(194.2 534.64) scale(0.71 0.47)" font-size="10.0" font-weight="bold" text-anchor="end" stroke="#000" stroke-width="0.6">60</text>
<text transform="translate(194.2 517.22) scale(0.71 0.47)" font-size="10.0" font-weight="bold" text-anchor="end" stroke="#000" stroke-width="0.6">80</text>
<text transform="translate(194.2 499.8) scale(0.71 0.47)" font-size="10.0" font-weight="bold" text-anchor="end" stroke="#000" stroke-width="0.6">100</text>
<text transform="translate(200.2 592.7) scale(0.79 0.46)" font-size="10.0" font-weight="bold" text-anchor="middle" stroke="#000" stroke-width="0.6">1</text>
<text transform="translate(232.9 592.7) scale(0.79 0.46)" font-size="10.0" font-weight="bold" text-anchor="middle" stroke="#000" stroke-width="0.6" dx="0 -0.8">10</text>
<text transform="translate(265.6 592.7) scale(0.79 0.46)" font-size="10.0" font-weight="bold" text-anchor="middle" stroke="#000" stroke-width="0.6" dx="0 -0.8">100</text>
<text transform="translate(298.3 592.7) scale(0.79 0.46)" font-size="10.0" font-weight="bold" text-anchor="middle" stroke="#000" stroke-width="0.6" dx="0 -0.8">1000</text>
<text transform="translate(330.8 592.7) scale(0.79 0.46)" font-size="10.0" font-weight="bold" text-anchor="middle" stroke="#000" stroke-width="0.6" dx="0 -0.8">10000</text>
<text transform="translate(265.5 596.9) scale(0.62 0.44)" font-size="10" font-weight="bold" text-anchor="middle" letter-spacing="1.2" stroke="#000" stroke-width="0.6">FL2–H</text>
<text transform="translate(181.2 540.15) rotate(-90) scale(0.5 0.68)" font-size="10" font-weight="bold" text-anchor="middle" stroke="#000" stroke-width="0.5">% of Max</text>
<path d="M26.00 695.80 L33.50 695.70 L36.90 693.20 L38.05 692.45 L39.20 691.79 L40.35 691.28 L41.50 690.30 L42.67 689.11 L43.83 687.97 L45.00 686.80 L46.45 684.55 L47.90 682.20 L49.05 679.71 L50.20 677.60 L51.90 673.00 L52.95 668.41 L54.00 663.80 L55.60 652.20 L56.80 640.70 L58.30 623.80 L59.50 617.40 L60.40 614.30 L61.20 617.40 L62.10 623.80 L62.90 640.70 L64.00 652.20 L65.20 663.80 L66.70 675.30 L67.80 682.20 L69.20 686.80 L70.35 688.03 L71.50 689.10 L72.65 690.18 L73.80 690.90 L74.95 691.11 L76.10 691.68 L77.25 692.00 L78.40 692.70 L79.56 693.21 L80.72 693.46 L81.88 693.39 L83.04 694.27 L84.20 694.30 L85.47 695.01 L86.73 695.26 L88.00 695.60 L91.00 695.80 Z" fill="#dedede" stroke="none"/>
<path d="M26.00 695.80 L33.50 695.70 L36.90 693.20 L38.05 692.45 L39.20 691.79 L40.35 691.28 L41.50 690.30 L42.67 689.11 L43.83 687.97 L45.00 686.80 L46.45 684.55 L47.90 682.20 L49.05 679.71 L50.20 677.60 L51.90 673.00 L52.95 668.41 L54.00 663.80 L55.60 652.20 L56.80 640.70 L58.30 623.80 L59.50 617.40 L60.40 614.30 L61.20 617.40 L62.10 623.80 L62.90 640.70 L64.00 652.20 L65.20 663.80 L66.70 675.30 L67.80 682.20 L69.20 686.80 L70.35 688.03 L71.50 689.10 L72.65 690.18 L73.80 690.90 L74.95 691.11 L76.10 691.68 L77.25 692.00 L78.40 692.70 L79.56 693.21 L80.72 693.46 L81.88 693.39 L83.04 694.27 L84.20 694.30 L85.47 695.01 L86.73 695.26 L88.00 695.60 L91.00 695.80" fill="none" stroke="#555555" stroke-width="1.0" stroke-linejoin="round"/>
<path d="M24.00 695.90 C24.60 695.89 28.82 695.84 30.00 695.80 C31.18 695.76 35.10 695.56 35.80 695.50 C36.49 695.44 36.72 695.23 36.95 695.18 C37.18 695.13 37.87 695.06 38.10 695.01 C38.33 694.96 39.02 694.79 39.25 694.72 C39.48 694.65 40.17 694.39 40.40 694.30 C40.63 694.21 41.32 693.86 41.55 693.77 C41.78 693.69 42.47 693.45 42.70 693.41 C42.93 693.37 43.62 693.41 43.85 693.39 C44.08 693.37 44.77 693.29 45.00 693.20 C45.23 693.11 45.92 692.56 46.15 692.44 C46.38 692.32 47.07 691.99 47.30 692.00 C47.53 692.01 48.22 692.46 48.45 692.52 C48.68 692.58 49.34 692.66 49.60 692.60 C49.86 692.54 50.76 692.05 51.05 691.88 C51.34 691.71 52.24 690.97 52.50 690.90 C52.76 690.83 53.42 691.17 53.65 691.22 C53.88 691.27 54.52 691.51 54.80 691.40 C55.08 691.29 56.22 690.16 56.50 690.10 C56.78 690.04 57.42 690.66 57.65 690.79 C57.88 690.92 58.57 691.26 58.80 691.40 C59.03 691.54 59.72 692.07 59.95 692.21 C60.18 692.35 60.87 692.86 61.10 692.80 C61.33 692.74 62.02 691.79 62.25 691.60 C62.48 691.41 63.16 690.95 63.40 690.90 C63.63 690.85 64.36 691.06 64.60 691.11 C64.84 691.16 65.56 691.36 65.80 691.40 C66.03 691.44 66.72 691.40 66.95 691.46 C67.18 691.52 67.87 691.92 68.10 692.00 C68.33 692.08 69.02 692.28 69.25 692.28 C69.48 692.28 70.17 692.05 70.40 692.00 C70.63 691.95 71.31 691.78 71.53 691.82 C71.76 691.87 72.44 692.43 72.67 692.49 C72.89 692.55 73.57 692.43 73.80 692.40 C74.03 692.37 74.73 692.20 74.97 692.24 C75.20 692.28 75.90 692.74 76.13 692.80 C76.37 692.85 77.07 692.80 77.30 692.80 C77.53 692.80 78.21 692.80 78.43 692.82 C78.66 692.84 79.34 692.96 79.57 693.00 C79.79 693.04 80.47 693.15 80.70 693.20 C80.93 693.25 81.63 693.50 81.87 693.47 C82.10 693.45 82.80 692.95 83.03 692.93 C83.27 692.91 83.96 693.27 84.20 693.30 C84.44 693.33 85.19 693.18 85.43 693.26 C85.68 693.34 86.42 694.04 86.67 694.12 C86.91 694.21 87.63 694.06 87.90 694.10 C88.17 694.14 89.06 694.43 89.35 694.51 C89.64 694.59 90.51 694.94 90.80 694.90 C91.09 694.86 91.96 694.17 92.25 694.06 C92.54 693.95 93.42 693.78 93.70 693.80 C93.98 693.82 94.82 694.26 95.10 694.29 C95.38 694.32 96.22 694.07 96.50 694.10 C96.78 694.13 97.66 694.57 97.95 694.61 C98.24 694.65 99.11 694.56 99.40 694.50 C99.69 694.44 100.56 694.07 100.85 694.03 C101.14 693.99 102.04 694.12 102.30 694.10 C102.56 694.08 103.21 693.89 103.43 693.81 C103.66 693.74 104.34 693.42 104.57 693.38 C104.79 693.34 105.45 693.57 105.70 693.40 C105.95 693.23 106.77 692.26 107.10 691.70 C107.43 691.14 108.66 688.67 109.00 687.80 C109.34 686.93 110.23 683.67 110.50 683.00 C110.77 682.33 111.46 681.96 111.70 681.10 C111.94 680.24 112.69 676.04 112.90 674.40 C113.11 672.76 113.61 666.63 113.80 664.70 C113.99 662.77 114.60 656.93 114.80 655.10 C115.00 653.27 115.65 648.04 115.80 646.40 C115.95 644.76 116.17 640.24 116.30 638.70 C116.43 637.16 116.96 632.54 117.10 631.00 C117.24 629.46 117.58 624.71 117.70 623.30 C117.82 621.89 118.19 617.90 118.30 616.90 C118.41 615.90 118.72 613.30 118.80 613.30 C118.88 613.30 119.04 616.29 119.10 616.90 C119.16 617.51 119.27 619.12 119.40 619.40 C119.53 619.68 120.24 619.50 120.40 619.70 C120.56 619.90 120.89 621.04 121.00 621.40 C121.11 621.76 121.37 622.34 121.50 623.30 C121.63 624.26 122.16 629.46 122.30 631.00 C122.44 632.54 122.78 637.16 122.90 638.70 C123.02 640.24 123.35 644.32 123.50 646.40 C123.65 648.48 124.23 657.23 124.40 659.50 C124.57 661.77 125.02 667.17 125.20 669.10 C125.38 671.03 125.99 677.06 126.20 678.80 C126.41 680.54 127.04 685.16 127.30 686.50 C127.56 687.84 128.46 691.29 128.80 692.20 C129.14 693.11 130.27 695.20 130.70 695.60 C131.13 696.00 130.61 696.14 133.10 696.20 C135.59 696.26 153.35 696.20 155.60 696.20" fill="none" stroke="#080808" stroke-width="1.6" stroke-linejoin="round" stroke-linecap="round"/>
<path d="M24 609.4 H155.6 V696.2" fill="none" stroke="#6a6a6a" stroke-width="1.6"/>
<path d="M24 609.4 V696.2" fill="none" stroke="#333" stroke-width="1.3"/>
<path d="M24 696.2 H155.6" fill="none" stroke="#111" stroke-width="1.8"/>
<path d="M20.8 696.2H24M22.6 691.86H24M22.6 687.52H24M22.6 683.18H24M20.8 678.84H24M22.6 674.5H24M22.6 670.16H24M22.6 665.82H24M20.8 661.48H24M22.6 657.14H24M22.6 652.8H24M22.6 648.46H24M20.8 644.12H24M22.6 639.78H24M22.6 635.44H24M22.6 631.1H24M20.8 626.76H24M22.6 622.42H24M22.6 618.08H24M22.6 613.74H24M20.8 609.4H24M24 696.2V698.4M33.9 696.2V697.4M39.7 696.2V697.4M43.81 696.2V697.4M47 696.2V697.4M49.6 696.2V697.4M51.8 696.2V697.4M53.71 696.2V697.4M55.39 696.2V697.4M56.9 696.2V698.4M66.8 696.2V697.4M72.6 696.2V697.4M76.71 696.2V697.4M79.9 696.2V697.4M82.5 696.2V697.4M84.7 696.2V697.4M86.61 696.2V697.4M88.29 696.2V697.4M89.8 696.2V698.4M99.7 696.2V697.4M105.5 696.2V697.4M109.61 696.2V697.4M112.8 696.2V697.4M115.4 696.2V697.4M117.6 696.2V697.4M119.51 696.2V697.4M121.19 696.2V697.4M122.7 696.2V698.4M132.6 696.2V697.4M138.4 696.2V697.4M142.51 696.2V697.4M145.7 696.2V697.4M148.3 696.2V697.4M150.5 696.2V697.4M152.41 696.2V697.4M154.09 696.2V697.4M155.6 696.2V698.4" stroke="#222" stroke-width="0.8" fill="none"/>
<text transform="translate(19 698.9) scale(0.71 0.47)" font-size="10.0" font-weight="bold" text-anchor="end" stroke="#000" stroke-width="0.6">0</text>
<text transform="translate(19 681.54) scale(0.71 0.47)" font-size="10.0" font-weight="bold" text-anchor="end" stroke="#000" stroke-width="0.6">20</text>
<text transform="translate(19 664.18) scale(0.71 0.47)" font-size="10.0" font-weight="bold" text-anchor="end" stroke="#000" stroke-width="0.6">40</text>
<text transform="translate(19 646.82) scale(0.71 0.47)" font-size="10.0" font-weight="bold" text-anchor="end" stroke="#000" stroke-width="0.6">60</text>
<text transform="translate(19 629.46) scale(0.71 0.47)" font-size="10.0" font-weight="bold" text-anchor="end" stroke="#000" stroke-width="0.6">80</text>
<text transform="translate(19 612.1) scale(0.71 0.47)" font-size="10.0" font-weight="bold" text-anchor="end" stroke="#000" stroke-width="0.6">100</text>
<text transform="translate(25 704.7) scale(0.79 0.46)" font-size="10.0" font-weight="bold" text-anchor="middle" stroke="#000" stroke-width="0.6">1</text>
<text transform="translate(57.6 704.7) scale(0.79 0.46)" font-size="10.0" font-weight="bold" text-anchor="middle" stroke="#000" stroke-width="0.6" dx="0 -0.8">10</text>
<text transform="translate(90.2 704.7) scale(0.79 0.46)" font-size="10.0" font-weight="bold" text-anchor="middle" stroke="#000" stroke-width="0.6" dx="0 -0.8">100</text>
<text transform="translate(122.8 704.7) scale(0.79 0.46)" font-size="10.0" font-weight="bold" text-anchor="middle" stroke="#000" stroke-width="0.6" dx="0 -0.8">1000</text>
<text transform="translate(155.2 704.7) scale(0.79 0.46)" font-size="10.0" font-weight="bold" text-anchor="middle" stroke="#000" stroke-width="0.6" dx="0 -0.8">10000</text>
<text transform="translate(90.1 708.9) scale(0.62 0.44)" font-size="10" font-weight="bold" text-anchor="middle" letter-spacing="1.2" stroke="#000" stroke-width="0.6">FL2–H</text>
<text transform="translate(6 652.3) rotate(-90) scale(0.5 0.68)" font-size="10" font-weight="bold" text-anchor="middle" stroke="#000" stroke-width="0.5">% of Max</text>
<path d="M201.00 695.80 L209.60 695.70 L210.77 694.72 L211.93 694.14 L213.10 693.20 L214.10 692.59 L215.10 691.96 L216.10 690.84 L217.10 690.30 L218.27 688.97 L219.43 687.75 L220.60 686.80 L222.05 684.34 L223.50 682.20 L224.65 680.04 L225.80 677.60 L226.95 675.08 L228.10 673.00 L229.10 668.42 L230.10 663.80 L231.50 652.20 L232.70 640.70 L233.90 623.80 L235.20 617.40 L236.00 614.30 L236.80 617.40 L237.50 623.80 L237.90 640.70 L239.00 652.20 L240.20 663.80 L241.90 675.30 L243.60 682.20 L244.80 686.80 L246.50 689.10 L247.95 690.08 L249.40 691.40 L250.40 691.73 L251.40 692.26 L252.40 692.95 L253.40 693.20 L258.10 695.50 L261.00 695.80 Z" fill="#dedede" stroke="none"/>
<path d="M201.00 695.80 L209.60 695.70 L210.77 694.72 L211.93 694.14 L213.10 693.20 L214.10 692.59 L215.10 691.96 L216.10 690.84 L217.10 690.30 L218.27 688.97 L219.43 687.75 L220.60 686.80 L222.05 684.34 L223.50 682.20 L224.65 680.04 L225.80 677.60 L226.95 675.08 L228.10 673.00 L229.10 668.42 L230.10 663.80 L231.50 652.20 L232.70 640.70 L233.90 623.80 L235.20 617.40 L236.00 614.30 L236.80 617.40 L237.50 623.80 L237.90 640.70 L239.00 652.20 L240.20 663.80 L241.90 675.30 L243.60 682.20 L244.80 686.80 L246.50 689.10 L247.95 690.08 L249.40 691.40 L250.40 691.73 L251.40 692.26 L252.40 692.95 L253.40 693.20 L258.10 695.50 L261.00 695.80" fill="none" stroke="#555555" stroke-width="1.0" stroke-linejoin="round"/>
<path d="M199.00 696.10 C199.60 696.09 204.28 696.05 205.00 696.00 C205.72 695.95 205.92 695.60 206.15 695.59 C206.38 695.58 207.07 695.86 207.30 695.88 C207.53 695.89 208.22 695.72 208.45 695.71 C208.68 695.70 209.37 695.83 209.60 695.77 C209.83 695.72 210.52 695.23 210.75 695.17 C210.98 695.12 211.67 695.25 211.90 695.20 C212.13 695.15 212.83 694.72 213.07 694.66 C213.30 694.61 214.00 694.69 214.23 694.63 C214.47 694.57 215.17 694.17 215.40 694.10 C215.63 694.03 216.31 693.98 216.53 693.91 C216.76 693.84 217.44 693.43 217.67 693.36 C217.89 693.29 218.57 693.24 218.80 693.20 C219.03 693.16 219.73 693.02 219.97 692.93 C220.20 692.84 220.90 692.42 221.13 692.33 C221.37 692.23 222.04 692.07 222.30 692.00 C222.56 691.93 223.46 691.71 223.75 691.59 C224.04 691.47 224.94 690.99 225.20 690.80 C225.46 690.61 226.12 689.85 226.35 689.68 C226.58 689.51 227.22 689.27 227.50 689.10 C227.78 688.93 228.85 688.00 229.20 688.00 C229.55 688.00 230.70 688.95 231.00 689.10 C231.30 689.25 231.92 689.39 232.15 689.51 C232.38 689.63 233.07 690.17 233.30 690.30 C233.53 690.43 234.22 690.78 234.45 690.83 C234.68 690.88 235.37 690.86 235.60 690.80 C235.83 690.74 236.52 690.34 236.75 690.25 C236.98 690.16 237.67 689.91 237.90 689.90 C238.13 689.89 238.82 690.09 239.05 690.18 C239.28 690.27 239.97 690.69 240.20 690.80 C240.43 690.91 241.12 691.25 241.35 691.31 C241.58 691.37 242.27 691.38 242.50 691.40 C242.73 691.42 243.42 691.49 243.65 691.49 C243.88 691.49 244.54 691.41 244.80 691.40 C245.06 691.39 245.96 691.31 246.25 691.35 C246.54 691.39 247.41 691.71 247.70 691.80 C247.99 691.89 248.86 692.16 249.15 692.24 C249.44 692.32 250.31 692.52 250.60 692.60 C250.88 692.68 251.72 692.95 252.00 693.01 C252.28 693.07 253.12 693.20 253.40 693.20 C253.69 693.20 254.56 692.97 254.85 692.97 C255.14 692.97 256.01 693.20 256.30 693.20 C256.59 693.20 257.46 693.07 257.75 693.01 C258.04 692.95 258.91 692.68 259.20 692.60 C259.49 692.52 260.36 692.22 260.65 692.19 C260.94 692.16 261.86 692.29 262.10 692.30 C262.35 692.31 262.90 692.31 263.10 692.31 C263.30 692.30 263.90 692.23 264.10 692.25 C264.30 692.26 264.90 692.37 265.10 692.45 C265.30 692.54 265.90 693.07 266.10 693.11 C266.30 693.16 266.90 692.94 267.10 692.90 C267.30 692.86 267.90 692.73 268.10 692.75 C268.30 692.77 268.90 693.10 269.10 693.08 C269.30 693.07 269.90 692.66 270.10 692.62 C270.30 692.57 270.90 692.67 271.10 692.66 C271.30 692.64 271.90 692.48 272.10 692.50 C272.30 692.52 272.92 692.81 273.12 692.84 C273.32 692.87 273.94 692.83 274.14 692.79 C274.34 692.75 274.96 692.46 275.16 692.47 C275.36 692.48 275.98 692.84 276.18 692.88 C276.38 692.93 276.97 692.95 277.20 692.90 C277.43 692.85 278.21 692.56 278.47 692.43 C278.72 692.29 279.48 691.67 279.73 691.54 C279.99 691.42 280.62 691.42 281.00 691.20 C281.38 690.98 283.06 689.87 283.50 689.30 C283.94 688.73 285.08 686.51 285.40 685.50 C285.72 684.49 286.44 680.85 286.70 679.20 C286.96 677.55 287.75 671.28 288.00 669.00 C288.25 666.72 288.95 658.93 289.20 656.40 C289.45 653.87 290.24 646.24 290.50 643.70 C290.76 641.16 291.57 633.41 291.80 631.00 C292.03 628.59 292.61 621.35 292.80 619.60 C292.99 617.85 293.55 613.63 293.70 613.50 C293.85 613.37 294.11 617.18 294.30 618.30 C294.49 619.42 295.38 623.18 295.60 624.70 C295.82 626.22 296.31 631.35 296.50 633.50 C296.69 635.65 297.30 643.66 297.50 646.20 C297.70 648.74 298.31 656.36 298.50 658.90 C298.69 661.44 299.22 669.07 299.40 671.60 C299.58 674.13 300.11 682.30 300.30 684.20 C300.49 686.10 301.01 689.58 301.30 690.60 C301.59 691.62 302.76 693.85 303.20 694.40 C303.64 694.95 305.22 695.92 305.70 696.10 C306.18 696.28 305.45 696.19 308.00 696.20 C310.55 696.21 328.88 696.20 331.20 696.20" fill="none" stroke="#080808" stroke-width="1.6" stroke-linejoin="round" stroke-linecap="round"/>
<path d="M199 609.4 H331.2 V696.2" fill="none" stroke="#6a6a6a" stroke-width="1.6"/>
<path d="M199 609.4 V696.2" fill="none" stroke="#333" stroke-width="1.3"/>
<path d="M199 696.2 H331.2" fill="none" stroke="#111" stroke-width="1.8"/>
<path d="M195.8 696.2H199M197.6 691.86H199M197.6 687.52H199M197.6 683.18H199M195.8 678.84H199M197.6 674.5H199M197.6 670.16H199M197.6 665.82H199M195.8 661.48H199M197.6 657.14H199M197.6 652.8H199M197.6 648.46H199M195.8 644.12H199M197.6 639.78H199M197.6 635.44H199M197.6 631.1H199M195.8 626.76H199M197.6 622.42H199M197.6 618.08H199M197.6 613.74H199M195.8 609.4H199M199 696.2V698.4M208.95 696.2V697.4M214.77 696.2V697.4M218.9 696.2V697.4M222.1 696.2V697.4M224.72 696.2V697.4M226.93 696.2V697.4M228.85 696.2V697.4M230.54 696.2V697.4M232.05 696.2V698.4M242 696.2V697.4M247.82 696.2V697.4M251.95 696.2V697.4M255.15 696.2V697.4M257.77 696.2V697.4M259.98 696.2V697.4M261.9 696.2V697.4M263.59 696.2V697.4M265.1 696.2V698.4M275.05 696.2V697.4M280.87 696.2V697.4M285 696.2V697.4M288.2 696.2V697.4M290.82 696.2V697.4M293.03 696.2V697.4M294.95 696.2V697.4M296.64 696.2V697.4M298.15 696.2V698.4M308.1 696.2V697.4M313.92 696.2V697.4M318.05 696.2V697.4M321.25 696.2V697.4M323.87 696.2V697.4M326.08 696.2V697.4M328 696.2V697.4M329.69 696.2V697.4M331.2 696.2V698.4" stroke="#222" stroke-width="0.8" fill="none"/>
<text transform="translate(194 698.9) scale(0.71 0.47)" font-size="10.0" font-weight="bold" text-anchor="end" stroke="#000" stroke-width="0.6">0</text>
<text transform="translate(194 681.54) scale(0.71 0.47)" font-size="10.0" font-weight="bold" text-anchor="end" stroke="#000" stroke-width="0.6">20</text>
<text transform="translate(194 664.18) scale(0.71 0.47)" font-size="10.0" font-weight="bold" text-anchor="end" stroke="#000" stroke-width="0.6">40</text>
<text transform="translate(194 646.82) scale(0.71 0.47)" font-size="10.0" font-weight="bold" text-anchor="end" stroke="#000" stroke-width="0.6">60</text>
<text transform="translate(194 629.46) scale(0.71 0.47)" font-size="10.0" font-weight="bold" text-anchor="end" stroke="#000" stroke-width="0.6">80</text>
<text transform="translate(194 612.1) scale(0.71 0.47)" font-size="10.0" font-weight="bold" text-anchor="end" stroke="#000" stroke-width="0.6">100</text>
<text transform="translate(200 704.7) scale(0.79 0.46)" font-size="10.0" font-weight="bold" text-anchor="middle" stroke="#000" stroke-width="0.6">1</text>
<text transform="translate(232.75 704.7) scale(0.79 0.46)" font-size="10.0" font-weight="bold" text-anchor="middle" stroke="#000" stroke-width="0.6" dx="0 -0.8">10</text>
<text transform="translate(265.5 704.7) scale(0.79 0.46)" font-size="10.0" font-weight="bold" text-anchor="middle" stroke="#000" stroke-width="0.6" dx="0 -0.8">100</text>
<text transform="translate(298.25 704.7) scale(0.79 0.46)" font-size="10.0" font-weight="bold" text-anchor="middle" stroke="#000" stroke-width="0.6" dx="0 -0.8">1000</text>
<text transform="translate(330.8 704.7) scale(0.79 0.46)" font-size="10.0" font-weight="bold" text-anchor="middle" stroke="#000" stroke-width="0.6" dx="0 -0.8">10000</text>
<text transform="translate(265.4 708.9) scale(0.62 0.44)" font-size="10" font-weight="bold" text-anchor="middle" letter-spacing="1.2" stroke="#000" stroke-width="0.6">FL2–H</text>
<text transform="translate(181 652.3) rotate(-90) scale(0.5 0.68)" font-size="10" font-weight="bold" text-anchor="middle" stroke="#000" stroke-width="0.5">% of Max</text>
<text x="0.75" y="14.6" font-size="18" font-weight="bold">A</text>
<text x="0.0" y="381.4" font-size="17.7" font-weight="bold">B</text>
<text x="55" y="13.5" font-size="16" stroke="#000" stroke-width="0.2">Medium</text>
<text x="235.6" y="13.5" font-size="16" stroke="#000" stroke-width="0.2">LPS</text>
<text x="355.0" y="80.8" font-size="13.3" stroke="#000" stroke-width="0.2">TLR2</text>
<text x="353.0" y="191.0" font-size="13.3" stroke="#000" stroke-width="0.2">TLR4</text>
<text x="353.5" y="300.6" font-size="13.3" stroke="#000" stroke-width="0.2">CD14</text>
<text x="353.5" y="439.4" font-size="13.3" stroke="#000" stroke-width="0.2">TLR2</text>
<text x="353.2" y="549.6" font-size="13.3" stroke="#000" stroke-width="0.2">TLR4</text>
<text x="352.0" y="659.6" font-size="13.3" stroke="#000" stroke-width="0.2">CD14</text>
<text x="453.3" y="193.1" font-size="13.05" stroke="#000" stroke-width="0.2">Neutrophils</text>
<text x="451.8" y="550.8" font-size="13.2" stroke="#000" stroke-width="0.2">Monocytes</text>
<rect x="420.2" y="45" width="5.3" height="289.5" fill="#000"/>
<rect x="419.6" y="400.8" width="5.4" height="289.8" fill="#000"/>
<text transform="translate(247.3 51.0) scale(1.0 0.9)" font-size="17.6" stroke="#000" stroke-width="0.35">**</text>
<text transform="translate(253.0 275.59999999999997) scale(1.0 0.9)" font-size="17.6" stroke="#000" stroke-width="0.35">**</text>
<text transform="translate(244.60000000000002 519.0) scale(1.0 0.9)" font-size="17.6" stroke="#000" stroke-width="0.35">**</text>
</svg></body></html>
